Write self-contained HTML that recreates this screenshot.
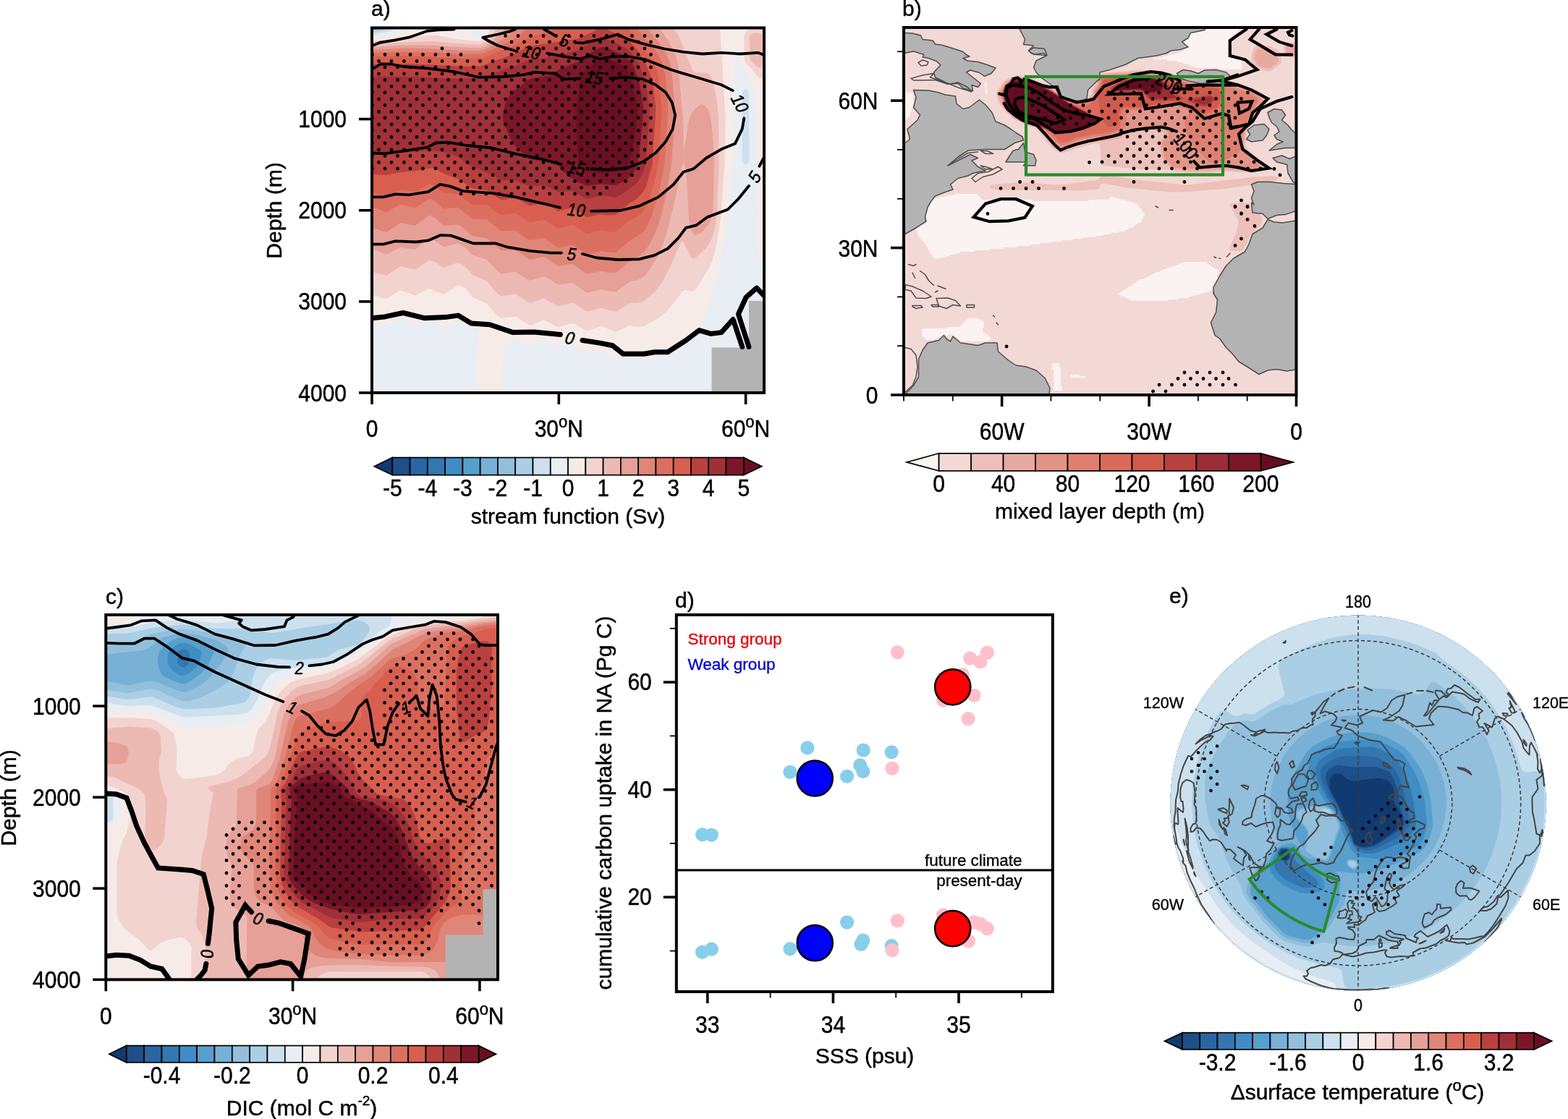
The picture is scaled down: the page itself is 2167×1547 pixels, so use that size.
<!DOCTYPE html>
<html lang="en"><head><meta charset="utf-8"><title>Figure</title>
<style>html,body{margin:0;padding:0;background:#fff;}svg{display:block;}text{font-family:"Liberation Sans", Arial, Helvetica, sans-serif;}</style>
</head><body>
<svg width="2167" height="1547" viewBox="0 0 2167 1547">
<rect width="2167" height="1547" fill="#fff"/>
<g id="pa">
<rect x="514" y="38.5" width="542" height="504.5" fill="#f2c9c3"/>
<clipPath id="pa_clip"><rect x="514" y="38.5" width="542" height="504.5"/></clipPath>
<g clip-path="url(#pa_clip)">
<rect x="514" y="38.5" width="542" height="504.5" fill="#78b0d6"/>
<path d="M514 40.5l0-1.5l3-0.5l539.5 0l0 504.5l-542.5 0z" fill="#92bfdc" fill-rule="evenodd"/>
<path d="M523 40.5l5.5-2l528 0l0 504.5l-542.5 0l0-501z" fill="#aacfe5" fill-rule="evenodd"/>
<path d="M535 40.5l4-2l517.5 0l0 504.5l-542.5 0l0-499l10-1z" fill="#cde0ee" fill-rule="evenodd"/>
<path d="M547.5 40.5l2.5-2l506.5 0l0 504.5l-542.5 0l0-495l20-3.5zM1029 123.5l-2.5 2.5l-0.5 4l-0.5 87.5l1 7l2.5 3l2.5 0l2.5-2.5l1.5-5.5l-0.5-87.5l-1-6l-2.5-2.5z" fill="#e8eef3" fill-rule="evenodd"/>
<path d="M567.5 40.5l3.5-2l82 0l-5.5 8l0.5 1.5l5.5 2l6.5 1l4.5-1l2.5-2l0.5-1.5l0-8l389 0l0 334.5l-2.5-1.5l-2.5-3l-2.5-7.5l-1.5-9l-2-185l-2.5-41l-7.5-23l-1.5-2.5l-8-7.5l-2.5-4l-2.5-7.5l-1.5-16l-2.5 0l-2.5 23.5l0.5 80l-4.5 95.5l-6 35l-3.5 31l-2.5 17.5l-11.5 51l-15 42.5l-7 14l-7.5 8.5l-12.5 9.5l-17.5 15l-5 2l-19.5 3.5l-12.5 3l-10-1.5l-10-3l-19.5 3.5l-20-14l-20 5.5l-19.5-12.5l-20 3.5l-19.5-10l-20 7l-20-7l-7 4.5l-4 4l-2.5 3.5l-2 6l-4 25.5l0 31l-33 0l0-52.5l2-35l-0.5-2l-1-1l-2.5-0.5l-5 0.5l-9.5-6l-10-3.5l-20 9l-19.5-10.5l-20 7l-15-8.5l-5-2l-19.5 11.5l-20-7l0-390l29.5-4.5z" fill="#f7ebe8" fill-rule="evenodd"/>
<path d="M677 38.5l318 0l7.5 122.5l-1 64.5l-5 70l-3.5 27.5l-5 25l-3.5 12l-5 11.5l-17 27l-5 4l-2.5 0.5l-7.5-2l-2.5 0.5l-2.5 2l-11 15l-11.5 13.5l-9.5 7.5l-15 8.5l-5 3l-5 0.5l-7.5 0l-7.5-1.5l-19.5 9l-20-8l-20 6.5l-19.5-11l-20 6l-19.5-10l-20 7.5l-20-13l-19.5 3l-8-6l-12-14.5l-20-8.5l-9.5-13l-5-2.5l-5-1l-20 12.5l-12.5-4.5l-7-3.5l-20 9.5l-20-7.5l-19.5 12.5l-20-6l0-350.5l84-8.5l5 0l28 5.5l24 2.5l7.5 0l5-1.5l5.5-5l2-3.5zM1034.5 40.5l2.5-2l19.5 0l0 69l-5 0.5l-2.5-0.5l-2.5-2l-6.5-8.5l-8.5-9l-2.5-4.5l-1-31.5l1.5-5.5l2-3.5z" fill="#f2d3cf" fill-rule="evenodd"/>
<path d="M686 38.5l244 0l6 8l3.5 5.5l10.5 28.5l7.5 16.5l2.5 2.5l2.5 1l14.5 0.5l2.5 1l2.5 2.5l2.5 5l2.5 8.5l4.5 27.5l1.5 19.5l0.5 47l0 17.5l-2.5 62l-2.5 19.5l-3.5 16l-3 6.5l-5 8l-12 12l-5 3.5l-2.5 0l-3.5-3l-9-18.5l-2.5-2l-2.5 2.5l-13 31.5l-12.5 23.5l-7.5 10l-16.5 15.5l-10 2.5l-10 0l-19.5 12l-12.5-3l-7.5-2.5l-20 5.5l-19.5-12.5l-20 5l-19.5-11l-20 6.5l-20-12.5l-19.5 3l-7.5-6l-12.5-15l-20-9l-9.5-10.5l-10-6l-20 7l-12.5-8l-7-2.5l-20 13.5l-20-5l-19.5 13l-20-5l0-314l42-3.5l42-1.5l45 4l19.5 0.5l7.5-2.5l7.5-6l3.5-5zM1040.5 46.5l3.5-1l5 0.5l7.5 2.5l0 42.5l-5 2l-2.5 0.5l-2.5-1l-8-7.5l-2.5-3.5l-0.5-29.5l2-4z" fill="#edbab3" fill-rule="evenodd"/>
<path d="M699.5 38.5l211.5 0l11 15.5l6.5 12l5 11.5l3.5 11.5l7 76l1 49.5l1-12.5l1.5-6l3.5-25l2-8l3.5-7.5l5-6l6-4.5l2-1l2.5 0.5l2.5 1.5l5 6.5l2.5 9.5l2.5 20l2.5 39.5l-1.5 68.5l-3.5 15.5l-2.5 5l-7.5 8.5l-4.5 3.5l-6 2.5l-1.5 0l-2.5-2.5l-2.5-6.5l-3-12.5l-2.5-49l-2-20.5l-2-8.5l-0.5-9l-1 11l-1.5 3.5l-9 43l-9.5 39l-6.5 21.5l-8.5 19.5l-10.5 17.5l-8 10.5l-10 5.5l-10 2l-19.5 14l-12.5-1.5l-7.5-2l-20 5l-19.5-14l-20 2.5l-19.5-11.5l-20 6l-20-12.5l-19.5 3l-7.5-6l-12.5-13.5l-20-6.5l-9.5-10l-10-6l-20 5l-12.5-8.5l-7-3l-20 15l-12.5-1.5l-7.5-2l-19.5 10.5l-20-8.5l0-278l42-3l37.5 0l49.5 3l19.5 0.5l7.5-2l7.5-5l18.5-16.5z" fill="#e6a098" fill-rule="evenodd"/>
<path d="M713.5 38.5l181 0l18.5 23.5l7 11.5l5.5 11.5l2 8l2.5 23.5l2.5 33l0 15.5l-4.5 62.5l-6.5 37l-5.5 25.5l-5 17.5l-6 15.5l-7 14l-7.5 11.5l-10 8l-10 4.5l-19.5 16l-12.5-0.5l-7.5-2l-20 4.5l-19.5-14l-20 3l-19.5-13l-20 4l-20-13.5l-19.5 1l-20-17l-20-3.5l-9.5-8.5l-10-7l-20 1.5l-12.5-11l-7-3.5l-20 14.5l-20-4l-19.5 13l-20-6l0-246l47-2.5l37 1l45 2.5l19.5 0l5-1l7.5-3l23.5-14l12-9.5z" fill="#e08679" fill-rule="evenodd"/>
<path d="M729 38.5l152 0l2 4l22.5 27l5 8l5.5 11.5l3.5 14l4 50.5l-5 74l-7.5 37l-5 17.5l-5.5 17l-5 11.5l-5 8.5l-7.5 6l-12.5 7.5l-19.5 16.5l-12.5-0.5l-7.5-1.5l-20 4.5l-19.5-13l-20 4l-19.5-13.5l-20 3.5l-20-14l-19.5 1l-20-16l-20-1l-19.5-15.5l-20 1.5l-12.5-11l-7-3l-20 13l-20-5l-19.5 11l-20-7.5l0-213l44.5-1.5l42 1l42.5 2.5l22-0.5l7.5-2.5l34.5-16l9-6z" fill="#dc7060" fill-rule="evenodd"/>
<path d="M767 40.5l3.5-2l96.5 0l25.5 31l7.5 12l5.5 9.5l3 8l1.5 5.5l5 47l-5 74l-5.5 25.5l-6.5 23l-7.5 16.5l-5 5l-7.5 5.5l-7.5 3l-19.5 17l-12.5-1l-7.5-1.5l-20 5l-19.5-13l-20 6l-19.5-13l-20 4l-20-13l-19.5 3l-20-14l-20-0.5l-19.5-15l-20-1.5l-10-8l-7.5-3l-2-0.5l-2.5 1l-17.5 9l-20-2.5l-19.5 9l-20-6l0-187l44.5-1.5l39.5 1.5l45 2.5l22-0.5l10-3l13-6l19-6.5l10-5l15-9l22.5-6z" fill="#d85f4f" fill-rule="evenodd"/>
<path d="M827 40.5l4-2l5 1l27 12.5l8 6l11.5 13.5l9.5 15.5l8 19.5l2.5 10l4 33l-5 78l-8.5 30l-3.5 7l-6.5 7.5l-5 4.5l-7.5 4l-19.5 16.5l-15 0.5l-5-1.5l-20 4.5l-19.5-13.5l-20 5l-19.5-12.5l-20 5l-20-11.5l-19.5 3.5l-20-13.5l-20-2.5l-19.5-13l-20-7.5l-10-6l-5-1.5l-7 0.5l-17.5 3.5l-20 1.5l-19.5 4l-20-1l0-152l44.5-1l39.5 1.5l45 2.5l22-1l42-15l25-12l64.5-10z" fill="#b9403f" fill-rule="evenodd"/>
<path d="M826 54l5-1.5l5 0.5l22.5 9.5l9.5 5.5l6.5 7.5l9 13.5l8.5 23.5l5.5 35l0 10l-4.5 63.5l-1 6.5l-2 7.5l-5.5 12l-6.5 8l-12.5 9.5l-14.5 9l-20-3.5l-20 5l-19.5-11l-20 1.5l-19.5-9.5l-20 2l-20-8.5l-19.5-0.5l-17.5-9.5l-7.5-2.5l-11-5.5l-11-4.5l-10-8.5l-5-2.5l-10-4l-15-3l-12-1l-40 3.5l-39.5 2.5l0-108.5l42 0l84.5 3.5l22-1.5l15-4l11-4.5l23-8l18-7.5l42-7l25-6.5z" fill="#a03038" fill-rule="evenodd"/>
<path d="M829 66l4.5-1l5 1l22.5 10l7 5l6.5 8l2.5 6l6.5 19.5l3.5 17.5l2.5 19.5l-1.5 19.5l-3 29l-4 25.5l-3 9.5l-5 7l-7.5 7l-14.5 7l-20-1.5l-20 2.5l-12-5l-14.5-9l-5.5-5l-7.5-9.5l-5-3.5l-10-2l-24.5-3l-5-3l-16.5-17l-6-9.5l-4.5-11l-4.5-12.5l-0.5-4l0.5-9.5l3.5-12l6-11.5l4-4l10.5-7l9-8.5l5-2l21-3.5l9.5-3.5l10.5-6.5l24.5-9.5l17-13z" fill="#7c1729" fill-rule="evenodd"/>
<path d="M830 79.5l3.5-1l2.5 0.5l12 6l14.5 6l3 2.5l5 11l4 12l7.5 35l-2 19.5l-4.5 27l-4 18l-3.5 11.5l-2.5 4l-4.5 3l-10 3l-17.5 2.5l-22.5-3l-8.5-3.5l-2-2l-2-15.5l-2-49l1-23.5l3-25l2.5-14l2.5-3.5z" fill="#690f24" fill-rule="evenodd"/>
<path d="M983.5 543V480.6H1035V416H1056V543Z" fill="#b3b3b3"/>
</g>
<g clip-path="url(#pa_clip)">
<path d="M698.5 49.5h0M716 49.5h0M733.5 49.5h0M751 49.5h0M768.5 49.5h0M786 49.5h0M803.5 49.5h0M821 49.5h0M838.5 49.5h0M856 49.5h0M873.5 49.5h0M891 49.5h0M908.5 49.5h0M707 58h0M724.5 58h0M742 58h0M759.5 58h0M777 58h0M794.5 58h0M812 58h0M829.5 58h0M847 58h0M864.5 58h0M882 58h0M899.5 58h0M698.5 67h0M716 67h0M733.5 67h0M751 67h0M768.5 67h0M786 67h0M803.5 67h0M821 67h0M838.5 67h0M856 67h0M873.5 67h0M891 67h0M514.5 75.5h0M532 75.5h0M549.5 75.5h0M567 75.5h0M584.5 75.5h0M602 75.5h0M619.5 75.5h0M637 75.5h0M707 75.5h0M724.5 75.5h0M742 75.5h0M759.5 75.5h0M777 75.5h0M794.5 75.5h0M812 75.5h0M829.5 75.5h0M847 75.5h0M864.5 75.5h0M882 75.5h0M899.5 75.5h0M523.5 84.5h0M541 84.5h0M558.5 84.5h0M576 84.5h0M593.5 84.5h0M611 84.5h0M628.5 84.5h0M646 84.5h0M663.5 84.5h0M681 84.5h0M698.5 84.5h0M716 84.5h0M733.5 84.5h0M751 84.5h0M768.5 84.5h0M786 84.5h0M803.5 84.5h0M821 84.5h0M838.5 84.5h0M856 84.5h0M873.5 84.5h0M891 84.5h0M514.5 93h0M532 93h0M549.5 93h0M567 93h0M584.5 93h0M602 93h0M619.5 93h0M637 93h0M654.5 93h0M672 93h0M689.5 93h0M707 93h0M724.5 93h0M742 93h0M759.5 93h0M777 93h0M794.5 93h0M812 93h0M829.5 93h0M847 93h0M864.5 93h0M882 93h0M899.5 93h0M523.5 102h0M541 102h0M558.5 102h0M576 102h0M593.5 102h0M611 102h0M628.5 102h0M646 102h0M663.5 102h0M681 102h0M698.5 102h0M716 102h0M733.5 102h0M751 102h0M768.5 102h0M786 102h0M803.5 102h0M821 102h0M838.5 102h0M856 102h0M873.5 102h0M891 102h0M514.5 110.5h0M532 110.5h0M549.5 110.5h0M567 110.5h0M584.5 110.5h0M602 110.5h0M619.5 110.5h0M637 110.5h0M654.5 110.5h0M672 110.5h0M689.5 110.5h0M707 110.5h0M724.5 110.5h0M742 110.5h0M759.5 110.5h0M777 110.5h0M794.5 110.5h0M812 110.5h0M829.5 110.5h0M847 110.5h0M864.5 110.5h0M882 110.5h0M899.5 110.5h0M523.5 119.5h0M541 119.5h0M558.5 119.5h0M576 119.5h0M593.5 119.5h0M611 119.5h0M628.5 119.5h0M646 119.5h0M663.5 119.5h0M681 119.5h0M698.5 119.5h0M716 119.5h0M733.5 119.5h0M751 119.5h0M768.5 119.5h0M786 119.5h0M803.5 119.5h0M821 119.5h0M838.5 119.5h0M856 119.5h0M873.5 119.5h0M891 119.5h0M514.5 128h0M532 128h0M549.5 128h0M567 128h0M584.5 128h0M602 128h0M619.5 128h0M637 128h0M654.5 128h0M672 128h0M689.5 128h0M707 128h0M724.5 128h0M742 128h0M759.5 128h0M777 128h0M794.5 128h0M812 128h0M829.5 128h0M847 128h0M864.5 128h0M882 128h0M899.5 128h0M523.5 137h0M541 137h0M558.5 137h0M576 137h0M593.5 137h0M611 137h0M628.5 137h0M646 137h0M663.5 137h0M681 137h0M698.5 137h0M716 137h0M733.5 137h0M751 137h0M768.5 137h0M786 137h0M803.5 137h0M821 137h0M838.5 137h0M856 137h0M873.5 137h0M891 137h0M514.5 145.5h0M532 145.5h0M549.5 145.5h0M567 145.5h0M584.5 145.5h0M602 145.5h0M619.5 145.5h0M637 145.5h0M654.5 145.5h0M672 145.5h0M689.5 145.5h0M707 145.5h0M724.5 145.5h0M742 145.5h0M759.5 145.5h0M777 145.5h0M794.5 145.5h0M812 145.5h0M829.5 145.5h0M847 145.5h0M864.5 145.5h0M882 145.5h0M899.5 145.5h0M523.5 154.5h0M541 154.5h0M558.5 154.5h0M576 154.5h0M593.5 154.5h0M611 154.5h0M628.5 154.5h0M646 154.5h0M663.5 154.5h0M681 154.5h0M698.5 154.5h0M716 154.5h0M733.5 154.5h0M751 154.5h0M768.5 154.5h0M786 154.5h0M803.5 154.5h0M821 154.5h0M838.5 154.5h0M856 154.5h0M873.5 154.5h0M891 154.5h0M514.5 163h0M532 163h0M549.5 163h0M567 163h0M584.5 163h0M602 163h0M619.5 163h0M637 163h0M654.5 163h0M672 163h0M689.5 163h0M707 163h0M724.5 163h0M742 163h0M759.5 163h0M777 163h0M794.5 163h0M812 163h0M829.5 163h0M847 163h0M864.5 163h0M882 163h0M899.5 163h0M523.5 172h0M541 172h0M558.5 172h0M576 172h0M593.5 172h0M611 172h0M628.5 172h0M646 172h0M663.5 172h0M681 172h0M698.5 172h0M716 172h0M733.5 172h0M751 172h0M768.5 172h0M786 172h0M803.5 172h0M821 172h0M838.5 172h0M856 172h0M873.5 172h0M891 172h0M514.5 180.5h0M532 180.5h0M549.5 180.5h0M567 180.5h0M584.5 180.5h0M602 180.5h0M619.5 180.5h0M637 180.5h0M654.5 180.5h0M672 180.5h0M689.5 180.5h0M707 180.5h0M724.5 180.5h0M742 180.5h0M759.5 180.5h0M777 180.5h0M794.5 180.5h0M812 180.5h0M829.5 180.5h0M847 180.5h0M864.5 180.5h0M882 180.5h0M899.5 180.5h0M523.5 189.5h0M541 189.5h0M558.5 189.5h0M576 189.5h0M593.5 189.5h0M611 189.5h0M628.5 189.5h0M646 189.5h0M663.5 189.5h0M681 189.5h0M698.5 189.5h0M716 189.5h0M733.5 189.5h0M751 189.5h0M768.5 189.5h0M786 189.5h0M803.5 189.5h0M821 189.5h0M838.5 189.5h0M856 189.5h0M873.5 189.5h0M891 189.5h0M514.5 198h0M532 198h0M549.5 198h0M567 198h0M584.5 198h0M602 198h0M619.5 198h0M637 198h0M654.5 198h0M672 198h0M689.5 198h0M707 198h0M724.5 198h0M742 198h0M759.5 198h0M777 198h0M794.5 198h0M812 198h0M829.5 198h0M847 198h0M864.5 198h0M882 198h0M899.5 198h0M523.5 207h0M541 207h0M558.5 207h0M576 207h0M593.5 207h0M611 207h0M628.5 207h0M646 207h0M663.5 207h0M681 207h0M698.5 207h0M716 207h0M733.5 207h0M751 207h0M768.5 207h0M786 207h0M803.5 207h0M821 207h0M838.5 207h0M856 207h0M873.5 207h0M891 207h0M514.5 215.5h0M532 215.5h0M549.5 215.5h0M567 215.5h0M584.5 215.5h0M602 215.5h0M619.5 215.5h0M637 215.5h0M654.5 215.5h0M672 215.5h0M689.5 215.5h0M707 215.5h0M724.5 215.5h0M742 215.5h0M759.5 215.5h0M777 215.5h0M794.5 215.5h0M812 215.5h0M829.5 215.5h0M847 215.5h0M864.5 215.5h0M882 215.5h0M899.5 215.5h0M523.5 224.5h0M541 224.5h0M558.5 224.5h0M576 224.5h0M593.5 224.5h0M611 224.5h0M628.5 224.5h0M646 224.5h0M663.5 224.5h0M681 224.5h0M698.5 224.5h0M716 224.5h0M733.5 224.5h0M751 224.5h0M768.5 224.5h0M786 224.5h0M803.5 224.5h0M821 224.5h0M838.5 224.5h0M856 224.5h0M873.5 224.5h0M891 224.5h0M514.5 233h0M532 233h0M549.5 233h0M567 233h0M584.5 233h0M602 233h0M619.5 233h0M637 233h0M654.5 233h0M672 233h0M689.5 233h0M707 233h0M724.5 233h0M742 233h0M759.5 233h0M777 233h0M794.5 233h0M812 233h0M829.5 233h0M847 233h0M864.5 233h0M882 233h0M628.5 242h0M646 242h0M663.5 242h0M681 242h0M698.5 242h0M716 242h0M733.5 242h0M751 242h0M768.5 242h0M786 242h0M803.5 242h0M821 242h0M838.5 242h0M856 242h0M873.5 242h0M637 250.5h0M654.5 250.5h0M672 250.5h0M689.5 250.5h0M707 250.5h0M724.5 250.5h0M742 250.5h0M759.5 250.5h0M777 250.5h0M794.5 250.5h0M812 250.5h0M829.5 250.5h0M847 250.5h0M864.5 250.5h0M646 259.5h0M663.5 259.5h0M681 259.5h0M698.5 259.5h0M716 259.5h0M733.5 259.5h0M751 259.5h0M768.5 259.5h0M786 259.5h0M803.5 259.5h0M821 259.5h0M838.5 259.5h0M637 268h0M654.5 268h0M672 268h0M689.5 268h0M707 268h0M724.5 268h0M742 268h0M759.5 268h0M777 268h0M794.5 268h0M812 268h0M829.5 268h0M611 67h0" fill="none" stroke="#000" stroke-width="4.8" stroke-linecap="round"/>
<path d="M514 63.5L524.3 59L546.5 55.4L565 51.7L576 48L590.8 42.8L605.5 41.4L627.7 40.5" fill="none" stroke="#000" stroke-width="3.8" stroke-linejoin="round" stroke-linecap="round"/>
<path d="M712 40.5L705.7 43.1L688 47.5L667.3 51.8L676 57L688 63L714.4 71" fill="none" stroke="#000" stroke-width="3.8" stroke-linejoin="round" stroke-linecap="round"/>
<path d="M756 73.6L784 78.9L801.4 81.5L815.4 77.1L829.3 81.5L846.8 78L867.7 78L892.2 82.4L909.6 89.3L927 96.3L944.5 101.6L962 106.8L979.5 112L996.9 117.3L1012.6 125.1" fill="none" stroke="#000" stroke-width="3.8" stroke-linejoin="round" stroke-linecap="round"/>
<path d="M1028.3 163.5L1025.7 178.4L1016 198.4L996.9 206.3L976 218.5L958.5 233.4L944.5 237.7L930.6 255.2L909.6 272.6L883.5 284.8L857.3 291L817 291.8" fill="none" stroke="#000" stroke-width="3.8" stroke-linejoin="round" stroke-linecap="round"/>
<path d="M752 40.5L760 45L768.5 50" fill="none" stroke="#000" stroke-width="3.8" stroke-linejoin="round" stroke-linecap="round"/>
<path d="M795.3 58.8L804.9 59.7L829.3 54.4L853.8 47.5L867.7 54.4L892.2 61.4L918.4 67.5L944.5 71.9L970.7 74.5L996.9 72.8L1023 74.5L1047.5 72.8L1056 76" fill="none" stroke="#000" stroke-width="3.8" stroke-linejoin="round" stroke-linecap="round"/>
<path d="M514 96L526 88.5L540 88.5L557.3 92L592.2 94.6L627 99L662 106.8L697 106L723 103.3L738.8 99.8L766.7 101.5L779 109.4L801.4 108.5" fill="none" stroke="#000" stroke-width="3.8" stroke-linejoin="round" stroke-linecap="round"/>
<path d="M843.3 108.5L866 106.8L888.7 109.4L906 117.3L920 127.7L928.8 141.7L933.2 159.2L929.7 178.4L920 195.8L906 211.5L888.7 223.7L866 232.5L839.8 234.6L817 233.4" fill="none" stroke="#000" stroke-width="3.8" stroke-linejoin="round" stroke-linecap="round"/>
<path d="M514 211.5L531 212.3L557.3 208.9L590.5 203.6L602.7 197.5L618.4 196.6L644.6 201L679.5 204.5L714.4 213.2L749.3 220.2L775.5 227.2" fill="none" stroke="#000" stroke-width="3.8" stroke-linejoin="round" stroke-linecap="round"/>
<path d="M514 272.4L529.8 272.4L546.4 268.3L565 269.3L591.9 265.2L608.4 254.8L623 257.9L639.5 264.1L680.8 267.2L711.9 272.4L742.9 279.6L774 286.9" fill="none" stroke="#000" stroke-width="3.8" stroke-linejoin="round" stroke-linecap="round"/>
<path d="M514 337.6L529.8 337.6L546.4 333.4L575.3 334.5L591.9 332.4L608.4 325.2L623 325.6L639.5 331.4L654 336.5L685 336.5L701.5 341.7L732.6 346.9L761.5 349.6L776 349.6" fill="none" stroke="#000" stroke-width="3.8" stroke-linejoin="round" stroke-linecap="round"/>
<path d="M805 351L825 356.5L854 359L883 358.3L904.6 352.9L922.7 343.8L937.2 329.4L948 314.9L962.5 311.3L977 300.4L1006 289.5L1020.4 275L1035 257" fill="none" stroke="#000" stroke-width="3.8" stroke-linejoin="round" stroke-linecap="round"/>
<path d="M1049.4 229.8L1056 217" fill="none" stroke="#000" stroke-width="3.8" stroke-linejoin="round" stroke-linecap="round"/>
<path d="M514.1 439.7L531.8 437.9L557.1 432.5L586.1 439.7L615 438.6L633.1 436.1L651.2 447L676.6 448.8L709.1 459.6L738.1 458.9L774.3 462.5" fill="none" stroke="#000" stroke-width="7" stroke-linejoin="round" stroke-linecap="round"/>
<path d="M805 470.5L828.6 474.1L846.7 477.7L861.1 489.3L890.1 489.3L904.6 486.8L922.7 486.8L948 470.5L966.1 456.7L982.4 461.4L996.9 459.6L1013.1 441.5L1025.8 479.5" fill="none" stroke="#000" stroke-width="7" stroke-linejoin="round" stroke-linecap="round"/>
<path d="M1034.9 479.5L1020.4 434.3L1031.2 410.8L1045.7 398.1L1056.2 409" fill="none" stroke="#000" stroke-width="7" stroke-linejoin="round" stroke-linecap="round"/>
</g>
<text font-size="22.5" stroke="#000" stroke-width="0.5" text-anchor="middle" transform="translate(735.0 72.0) rotate(12) scale(1 1.08) skewX(-10)" dy="0.36em">10</text>
<text font-size="22.5" stroke="#000" stroke-width="0.5" text-anchor="middle" transform="translate(781.0 56.0) rotate(20) scale(1 1.08) skewX(-10)" dy="0.36em">5</text>
<text font-size="22.5" stroke="#000" stroke-width="0.5" text-anchor="middle" transform="translate(822.0 107.0) rotate(8) scale(1 1.08) skewX(-10)" dy="0.36em">15</text>
<text font-size="22.5" stroke="#000" stroke-width="0.5" text-anchor="middle" transform="translate(797.0 232.0) rotate(10) scale(1 1.08) skewX(-10)" dy="0.36em">15</text>
<text font-size="22.5" stroke="#000" stroke-width="0.5" text-anchor="middle" transform="translate(797.0 290.0) rotate(6) scale(1 1.08) skewX(-10)" dy="0.36em">10</text>
<text font-size="22.5" stroke="#000" stroke-width="0.5" text-anchor="middle" transform="translate(790.5 351.0) rotate(6) scale(1 1.08) skewX(-10)" dy="0.36em">5</text>
<text font-size="22.5" stroke="#000" stroke-width="0.5" text-anchor="middle" transform="translate(1023.0 143.0) rotate(62) scale(1 1.08) skewX(-10)" dy="0.36em">10</text>
<text font-size="22.5" stroke="#000" stroke-width="0.5" text-anchor="middle" transform="translate(1043.0 244.0) rotate(-58) scale(1 1.08) skewX(-10)" dy="0.36em">5</text>
<text font-size="22.5" stroke="#000" stroke-width="0.5" text-anchor="middle" transform="translate(788.0 467.0) rotate(12) scale(1 1.08) skewX(-10)" dy="0.36em">0</text>
<rect x="514.0" y="38.5" width="542.0" height="504.5" fill="none" stroke="#000" stroke-width="4"/>
<line x1="496.0" y1="164.6" x2="514.0" y2="164.6" stroke="#000" stroke-width="3.6"/>
<text transform="translate(479.0 176.1) scale(1 1.08)" font-size="30" text-anchor="end" fill="#000" stroke="#000" stroke-width="0.45">1000</text>
<line x1="496.0" y1="290.8" x2="514.0" y2="290.8" stroke="#000" stroke-width="3.6"/>
<text transform="translate(479.0 302.2) scale(1 1.08)" font-size="30" text-anchor="end" fill="#000" stroke="#000" stroke-width="0.45">2000</text>
<line x1="496.0" y1="416.9" x2="514.0" y2="416.9" stroke="#000" stroke-width="3.6"/>
<text transform="translate(479.0 428.4) scale(1 1.08)" font-size="30" text-anchor="end" fill="#000" stroke="#000" stroke-width="0.45">3000</text>
<line x1="496.0" y1="543.0" x2="514.0" y2="543.0" stroke="#000" stroke-width="3.6"/>
<text transform="translate(479.0 554.5) scale(1 1.08)" font-size="30" text-anchor="end" fill="#000" stroke="#000" stroke-width="0.45">4000</text>
<line x1="514.0" y1="543.0" x2="514.0" y2="559.0" stroke="#000" stroke-width="3.6"/>
<text transform="translate(514.0 603.5) scale(1 1.08)" font-size="30" text-anchor="middle" fill="#000" stroke="#000" stroke-width="0.45">0</text>
<line x1="772.3" y1="543.0" x2="772.3" y2="559.0" stroke="#000" stroke-width="3.6"/>
<text transform="translate(772.3 603.5) scale(1 1.08)" font-size="30" text-anchor="middle" fill="#000" stroke="#000" stroke-width="0.45">30<tspan font-size="22" dy="-12">o</tspan><tspan dy="12">N</tspan></text>
<line x1="1030.6" y1="543.0" x2="1030.6" y2="559.0" stroke="#000" stroke-width="3.6"/>
<text transform="translate(1030.6 603.5) scale(1 1.08)" font-size="30" text-anchor="middle" fill="#000" stroke="#000" stroke-width="0.45">60<tspan font-size="22" dy="-12">o</tspan><tspan dy="12">N</tspan></text>
<text x="389.0" y="291.0" font-size="30" text-anchor="middle" fill="#000" stroke="#000" stroke-width="0.45" transform="rotate(-90 389.0 291.0)">Depth (m)</text>
<text x="513.0" y="22.0" font-size="30" text-anchor="start" fill="#000" stroke="#000" stroke-width="0.45">a)</text>
<path d="M542.3 632.6L517.3 644.7L542.3 656.7Z" fill="#113a70" stroke="#000" stroke-width="1.7" stroke-linejoin="miter"/>
<path d="M1027.8 632.6L1052.8 644.7L1027.8 656.7Z" fill="#690f24" stroke="#000" stroke-width="1.7" stroke-linejoin="miter"/>
<rect x="542.30" y="632.6" width="24.27" height="24.1" fill="#1f4f88" stroke="#000" stroke-width="1.7"/>
<rect x="566.57" y="632.6" width="24.27" height="24.1" fill="#2a66a2" stroke="#000" stroke-width="1.7"/>
<rect x="590.85" y="632.6" width="24.27" height="24.1" fill="#3477b0" stroke="#000" stroke-width="1.7"/>
<rect x="615.12" y="632.6" width="24.27" height="24.1" fill="#3f8dc4" stroke="#000" stroke-width="1.7"/>
<rect x="639.40" y="632.6" width="24.27" height="24.1" fill="#579fcd" stroke="#000" stroke-width="1.7"/>
<rect x="663.67" y="632.6" width="24.27" height="24.1" fill="#78b0d6" stroke="#000" stroke-width="1.7"/>
<rect x="687.95" y="632.6" width="24.27" height="24.1" fill="#92bfdc" stroke="#000" stroke-width="1.7"/>
<rect x="712.22" y="632.6" width="24.27" height="24.1" fill="#aacfe5" stroke="#000" stroke-width="1.7"/>
<rect x="736.50" y="632.6" width="24.27" height="24.1" fill="#cde0ee" stroke="#000" stroke-width="1.7"/>
<rect x="760.77" y="632.6" width="24.27" height="24.1" fill="#e8eef3" stroke="#000" stroke-width="1.7"/>
<rect x="785.05" y="632.6" width="24.27" height="24.1" fill="#f7ebe8" stroke="#000" stroke-width="1.7"/>
<rect x="809.32" y="632.6" width="24.27" height="24.1" fill="#f2d3cf" stroke="#000" stroke-width="1.7"/>
<rect x="833.60" y="632.6" width="24.27" height="24.1" fill="#edbab3" stroke="#000" stroke-width="1.7"/>
<rect x="857.88" y="632.6" width="24.27" height="24.1" fill="#e6a098" stroke="#000" stroke-width="1.7"/>
<rect x="882.15" y="632.6" width="24.27" height="24.1" fill="#e08679" stroke="#000" stroke-width="1.7"/>
<rect x="906.42" y="632.6" width="24.27" height="24.1" fill="#dc7060" stroke="#000" stroke-width="1.7"/>
<rect x="930.70" y="632.6" width="24.27" height="24.1" fill="#d85f4f" stroke="#000" stroke-width="1.7"/>
<rect x="954.97" y="632.6" width="24.27" height="24.1" fill="#b9403f" stroke="#000" stroke-width="1.7"/>
<rect x="979.25" y="632.6" width="24.27" height="24.1" fill="#a03038" stroke="#000" stroke-width="1.7"/>
<rect x="1003.52" y="632.6" width="24.27" height="24.1" fill="#7c1729" stroke="#000" stroke-width="1.7"/>
<text transform="translate(542.3 686.0) scale(1 1.08)" font-size="30" text-anchor="middle" fill="#000" stroke="#000" stroke-width="0.45">-5</text>
<text transform="translate(590.8 686.0) scale(1 1.08)" font-size="30" text-anchor="middle" fill="#000" stroke="#000" stroke-width="0.45">-4</text>
<text transform="translate(639.4 686.0) scale(1 1.08)" font-size="30" text-anchor="middle" fill="#000" stroke="#000" stroke-width="0.45">-3</text>
<text transform="translate(687.9 686.0) scale(1 1.08)" font-size="30" text-anchor="middle" fill="#000" stroke="#000" stroke-width="0.45">-2</text>
<text transform="translate(736.5 686.0) scale(1 1.08)" font-size="30" text-anchor="middle" fill="#000" stroke="#000" stroke-width="0.45">-1</text>
<text transform="translate(785.0 686.0) scale(1 1.08)" font-size="30" text-anchor="middle" fill="#000" stroke="#000" stroke-width="0.45">0</text>
<text transform="translate(833.6 686.0) scale(1 1.08)" font-size="30" text-anchor="middle" fill="#000" stroke="#000" stroke-width="0.45">1</text>
<text transform="translate(882.1 686.0) scale(1 1.08)" font-size="30" text-anchor="middle" fill="#000" stroke="#000" stroke-width="0.45">2</text>
<text transform="translate(930.7 686.0) scale(1 1.08)" font-size="30" text-anchor="middle" fill="#000" stroke="#000" stroke-width="0.45">3</text>
<text transform="translate(979.2 686.0) scale(1 1.08)" font-size="30" text-anchor="middle" fill="#000" stroke="#000" stroke-width="0.45">4</text>
<text transform="translate(1027.8 686.0) scale(1 1.08)" font-size="30" text-anchor="middle" fill="#000" stroke="#000" stroke-width="0.45">5</text>
<text x="785.0" y="723.5" font-size="30" text-anchor="middle" stroke="#000" stroke-width="0.45">stream function (Sv)</text>
</g>
<g id="pb">
<rect x="1249" y="38" width="542.5" height="508" fill="#f3d9d5"/>
<clipPath id="pb_clip"><rect x="1249" y="38" width="542.5" height="508"/></clipPath>
<g clip-path="url(#pb_clip)">
<rect x="1249" y="38" width="542.5" height="508" fill="#faf3f1"/>
<path d="M1240 30l558 0l0 528l-558 0zM1250 128l0 38l2 0l6-6l0-4l2-2l0-4l2-2l0-2l2-2l0-4l-2-2l0-10zM1320 268l-2 2l-8 0l-2 2l-8 0l-2 2l-8 0l-2 2l-4 0l-4 4l0 2l-16 16l0 2l-2 2l2 2l0 6l2 2l0 6l2 2l0 4l2 2l0 2l8 8l0 2l4 4l0 2l4 4l0 2l2 2l0 2l4 4l6 0l2-2l6 0l2-2l4 0l2-2l6 0l2-2l4 0l2-2l18 0l2-2l18 0l2-2l18 0l2-2l16 0l2-2l16 0l2-2l12 0l2-2l14 0l2-2l12 0l2-2l14 0l2-2l12 0l2-2l14 0l2-2l10 0l2-2l8 0l2-2l8 0l2-2l8 0l2-2l2 0l2-2l2 0l2-2l2 0l4-4l2 0l2-2l2 0l2-2l0-2l2-2l0-2l2-2l0-2l-4-4l0-2l-6-6l0-2l-2 0l-2-2l-4 0l-2-2l-6 0l-2-2l-6 0l-2-2l-4 0l-2-2l-6 0l0 2l-2 2l-26 0l-2 2l-76 0l-2-2l-68 0l-8-8zM1362 114l-2 2l0 2l2 2l0 8l2 2l0-16zM1646 36l-2 2l0 4l-2 2l0 4l-2 2l0 4l-2 2l0 4l-2 2l0 4l-2 2l0 2l-2 2l-2 0l-2 2l-6 0l-2 2l-6 0l-2 2l-4 0l-2 2l-10 0l-2 2l-10 0l28 0l2 2l12 0l2 2l6 0l2 2l4 0l2 2l2 0l2 2l4 0l2 2l32 0l2 2l30 0l0-14l-2-2l-2 0l-2-2l-4 0l-2-2l-2 0l-4-4l2-2l0-10l2-2l0-8l4-4l2 0l10-10zM1338 440l-12 12l-16 0l-2 2l-32 0l-2 2l0 8l6 6l10 0l2-2l4 0l2-2l6 0l2-2l4 0l2-2l2 0l2 2l2 0l6 6l2 0l2 2l36 0l2-2l2 0l2-2l-6-6l-2 0l-4-4l0-4l2-2l0-6l-4-4l-2 0l-2-2zM1454 502l0 8l2 2l0 28l12 0l0-4l-2-2l0-26l-2-2l0-4zM1480 518l0 4l20 0l0-2l-8 0l-2-2zM1636 362l-2 2l-4 0l-2 2l-2 0l-2 2l-4 0l-2 2l-4 0l-2 2l-4 0l-2 2l-2 0l-2 2l-4 0l-2 2l-2 0l-2 2l-2 0l-2 2l-2 0l-2 2l-2 0l-2 2l-4 0l-2 2l-2 0l-4 4l-2 0l-4 4l-2 0l-4 4l-2 0l-4 4l-2 0l-2 2l0 2l2 0l2 2l4 0l2 2l2 0l2 2l2 0l2 2l50 0l2-2l12 0l2-2l12 0l2-2l4 0l2-2l6 0l2-2l4 0l2-2l6 0l2-2l4 0l2-2l0-6l2-2l0-4l2-2l0-6l2-2l0-4l-2-2l-2 0l-2-2l-2 0l-4-4l-2 0l-4-4z" fill="#f3d9d5" fill-rule="evenodd"/>
<path d="M1776.5 60l11.5-1.5l4 0l2 1.5l1.5 4l0.5 6l-0.5 6l-1.5 3l-4 1.5l-6-1l-4-1l-3.5-2.5l-1.5-4l-1.5-8l0.5-2zM1735.5 64l4.5-1l12 0l14 6l3 3l1.5 4l0.5 8l-1 4l-8 6.5l-6 4l-6 0l-12-3l-4-4l-5-9.5l0.5-4l2.5-10l1-2zM1556.5 98l11.5-1l26 0l24 3.5l19 7.5l7 2l44 1.5l8 1l32 8.5l8 3.5l10 6l3 3.5l1 2l-0.5 4l-23.5 36l-2.5 6l-2 18l0.5 2.5l2 3.5l24 20l2.5 4l-0.5 3l-2 2l-4 1.5l-14 2.5l-36-2l-28 2l-16 0l-24-1.5l-6-2l-6-1l-38-0.5l-52-5l-1.5-1l-1-2l-1-24l-0.5-2l-2-1.5l-4-0.5l-22 6l-22 7.5l-6 0l-12-9l-20-24.5l-3-2l-9-2.5l-14-6l-4-2.5l-11-9l-10-12l-3-8l-1-6l0.5-4l10-14l8.5-5.5l6-2l4-0.5l16 2.5l22 9l10 4.5l12.5 10l8.5 4l13 3.5l10-0.5l6-2.5l4-4l0.5-6.5l5.5-7l2.5-11l3.5-4l6-1.5zM1522 242l4-1l48 8l64 6.5l10-0.5l84-10.5l30-1l3 0.5l1.5 2l-2.5 3l-4 1.5l-66 10.5l-60 4.5l-18 0l-60-6l-30-6l-4 0.5l-1.5 2l-1.5 4l-3 2l-28 1.5l-112-1l-6-1.5l-2.5-3l1.5-2l3-0.5l34-3l18 0l34 3l14-0.5l44-6l2.5-1zM1700 282l2-1l4-0.5l18 0l4 1l4 3.5l10 13l2 4l0 5.5l-2 5l-12 10l-2.5 3.5l-3.5 9l-4 7l-3 4l-3 1l-12 0l-2-1l-1-2l1-4l8.5-18l3-14l-1.5-6l-9.5-16l-1-2z" fill="#edc0b9" fill-rule="evenodd"/>
<path d="M1779.5 62l8.5-1l4 1.5l1 1.5l0 6l0 4l-1 2.5l-2 1l-6-0.5l-2.5-1l-2.5-2l-2.5-8l0.5-2zM1737.5 68l4.5-0.5l10 0l11 4.5l3 4l1 6l-1 4l-7.5 6l-4.5 2.5l-6.5-0.5l-7.5-2l-2-2l-4.5-8l0.5-6l2-6zM1557 100l15-1l22 1l24 3l24 9l52 2.5l34 9.5l15 8l3.5 4l0 4l-23 36l-2.5 8l-2 16l0.5 4l2.5 4l21.5 18l3 4l-1 2l-5.5 2.5l-12 2l-34-2l-28 2l-18 0l-20-1.5l-4-1l-7.5-4l-5-4l-5-6l-1.5-8l-2-14l1.5-4l5.5-6l0.5-4l-3.5-2l-17-3l-32 4l-4 1.5l-5 5.5l-3 1.5l-20 3.5l-12 0l-28 7.5l-16 6l-4 0.5l-5.5-3l-6.5-5.5l-17.5-22.5l-3-2l-15.5-4.5l-14-6.5l-4-2.5l-11.5-12.5l-6.5-10l-1.5-6l-0.5-4l1-4l7.5-12l3.5-2.5l6-3l6-2l4 0l14 2l20 8l14 8l10 7.5l8 4l14 4l10-1l6-2l6-5l1-8l5-6l2-10l3-4l5-1.5z" fill="#e8aaa0" fill-rule="evenodd"/>
<path d="M1551 102l25-1l30 2.5l12 1.5l26 9.5l50 2l32 9l12.5 6.5l4.5 4l0.5 2l-0.5 2l-22 36l-2 8l-2 18l0.5 4l2.5 4l19 16l1.5 2l0.5 2l-3 2l-10 1.5l-30-2l-38 2l-34-1.5l-4-2l-10-8l-3-6l-2.5-14l0-4l1.5-3l4.5-5l2.5-4l-1-4l-2-2l-4-1.5l-16-2.5l-8 0l-24 3l-6 2l-8 3.5l-20 6l-10 0l-10 1l-18 4l-18 7.5l-4 0l-6-4l-17.5-19l-3-2l-4-2l-17.5-5.5l-12-5.5l-6-3.5l-11.5-13.5l-5.5-16l0.5-6l2-4l4-6l4.5-4l8-3.5l16 0l4 1l22 9l12 7l18 12.5l12 3.5l12-0.5l6-2l7-5l1-2l0.5-6l5.5-8l1.5-8l2.5-4.5l6-1.5z" fill="#e39488" fill-rule="evenodd"/>
<path d="M1545 104l29-1.5l40 3l6 1.5l24 9l36 1.5l16 2l28 8.5l9 4l5 4l0.5 4l-20 36l-2 8l-2.5 22.5l-2 5.5l-14 7l-16 6l-6 0.5l-6-2.5l-21-21l-4.5-6l-1.5-4l-4.5-14l-1.5-8l1.5-6l6.5-10l-2.5-2l-2.5-0.5l-1.5-1.5l-8.5-2.5l-2-1.5l-2 0l-12 0l-2 1.5l-8 0.5l-4 1.5l-8 0.5l-2 1.5l-2 0l-31 0.5l-0.5 20l-2 4l-6.5 5l-22 7l-14 0.5l-22 4.5l-18.5 7l-5.5 0.5l-6-4.5l-15-16l-9-4.5l-16-4.5l-14-6.5l-6-4l-10.5-12.5l-5-16l0-6l4.5-8l5-5l8-4l16 0l6 1.5l20 9l10 5.5l15.5 11l10.5 6l8 1.5l10-0.5l8-2.5l7.5-6.5l0.5-8l5.5-8l2.5-10l4-2.5z" fill="#de7f71" fill-rule="evenodd"/>
<path d="M1570 104l10 0.5l36 3.5l28 9.5l38 2l4.5 2.5l5 6l0.5 4l-2 2l0 6l-2 2l0 4l-6 6l-2 0l-2 2l-2 0l-2 2l-4 0l-2 2l-6 0l-2 2l-1.5-2l-4.5-1l-6-4l-8-4.5l-10-4l-6-1l-6 0l-34 6l-30 1l-3.5 1.5l-1 2l-1 4l0 16l-2 4l-2.5 1.5l-18 5l-14 1l-24 5l-14 5.5l-6 1.5l-4-2l-11-11.5l-6-4l-13-5.5l-14-4l-18-9l-4-3.5l-8-10l-5-18l0.5-4l6-10l6.5-4.5l6-2.5l14 0.5l6 2l22 9.5l10 6l16 11l14 8l4 1l6-0.5l8-1.5l4-2.5l6-4.5l1.5-2l-0.5-6l1-4l5-6l2-10l2-2l11-1.5z" fill="#da6b5b" fill-rule="evenodd"/>
<path d="M1544.5 108l23.5-2l28 0.5l3 1.5l17 2l26 9.5l39 2.5l3 1.5l2.5 2.5l1.5 4l-0.5 2l-3 12l-2.5 4l-4 2l-16 5.5l-6-1l-14-7.5l-10-4l-8-2l-6 0l-34 6l-28 0.5l-4 0.5l-3 2l-2.5 4l-1 16l-1.5 3l-4 2l-8 0.5l-4-3l-6.5-10.5l-3.5-26l0-8l4.5-6l3.5-11.5l4-1zM1403 110l17 0.5l22 9l14 8l22 15l18 9.5l2 0.5l2 1.5l2 0.5l2 1.5l2 0.5l2 1.5l10 4.5l1.5 1.5l-0.5 4l-15 9.5l-4 0.5l-2 1.5l-5 0.5l-1 1l-6.5 1l-1.5 1l-9 1l-3 1.5l-8 0l-10-2l-18-9l-16-5l-14-6l-6-4l-9.5-11.5l-5-18l1.5-6l5-7.5l4-3.5z" fill="#d05a4c" fill-rule="evenodd"/>
<path d="M1572.5 108l7.5-1l14 0l12 4.5l9 4.5l4 6l1 2.5l5 5.5l11 6l-2 1.5l-2 0.5l-40 1.5l-2-0.5l-2-1.5l-6-7.5l-4-2.5l-8-1l-28 1.5l-4-0.5l-2.5-1.5l-0.5-2l0-2l2-2l11-7l8-3.5zM1399 112l5-1.5l14 0l4 1l18 7.5l14 7.5l24 16.5l40 20.5l1 2.5l-5 4.5l-10 6l-14 4.5l-22 4l-6-0.5l-8-2l-18.5-8.5l-17.5-5.5l-16-8l-9.5-10.5l-2.5-4l-3.5-14l-0.5-4l1.5-4l4.5-7zM1669 132l5-0.5l5 4.5l0 2l-1.5 2l-5.5 5l-4 2l-6 0l-12-4l-6-2l-2-2l-4-1l24-5z" fill="#b8403f" fill-rule="evenodd"/>
<path d="M1578 108l16 0l10 3.5l9.5 6.5l6 10l6 6l-1.5 1.5l-4 0.5l-28 0.5l-2-0.5l-2-1.5l-3-4.5l-3-2l-2-2l-4-1.5l-8-0.5l-6 1l-20 1l-4-2l0-2l4-3.5l12-6.5l10-3zM1399.5 112l4.5-1.5l14 0.5l22 8.5l14 7.5l24 16.5l38 19.5l1.5 1l1 2l-1.5 2l-7 4.5l-8 4l-14 4l-22 4l-10-2l-20-9l-18-5.5l-16-8l-10-11l-2-5l-3.5-14l0.5-4l5-8.5zM1670 134l4 0.5l2 1.5l-0.5 2l-3.5 4l-4 2.5l-4 0l-3.5-0.5l-10-4l1-2z" fill="#9c2c36" fill-rule="evenodd"/>
<path d="M1563 110l19-1.5l12 0l9.5 3.5l3.5 2l0.5 2l0 6l-5.5 5l-11.5 1l-2.5 1l-4-0.5l-5.5-4.5l-2.5-1l-18 1l-10 1l-4 0l-3-1l-1-2l2-2.5zM1401 112l5-1l14 0.5l20 8.5l14 7.5l16 11.5l10 6l36 18.5l1.5 2.5l-4.5 4l-11 6l-16 4.5l-20 3.5l-12-3l-18-8l-16-4.5l-14-6.5l-6-4.5l-8-9.5l-2-5l-3-13l0.5-4l5-8l1.5-2z" fill="#7c1729" fill-rule="evenodd"/>
<path d="M1566.5 110l23.5-1l6 1l10 4l1 2l-0.5 4l-2.5 4.5l-18 3.5l-2-0.5l-4-3.5l-4-1.5l-30 1.5l-2 0l-2.5-2l1-2l8.5-4zM1402 112l17 0l23 9.5l11.5 6.5l22.5 15l40 21l1 2l-5 4l-11 6l-15 4l-20 3.5l-12-2.5l-18-8.5l-15.5-4.5l-13.5-6l-6-4l-8.5-10l-2.5-7l-2.5-11l0.5-4l5-8l3-2.5z" fill="#640d22" fill-rule="evenodd"/>
<path d="M1251 45.5L1261 46L1272.5 49L1275 54.5L1289 56L1292.5 61L1303 62.5L1317 67L1331 71.5L1335 75.5L1340 78L1331 80.5L1337 84L1351.5 85.5L1365.5 90L1376 94L1370 101.5L1360.5 105.5L1353.5 100.5L1341 97L1335.5 100L1344.5 107L1355.5 115.5L1351.5 120.5L1343 117.5L1344.5 125.5L1331 122L1324 115.5L1310 116L1303 112L1292.5 107L1290.5 100L1300 90L1294 84.5L1283.5 80.5L1275 79L1277 75.5L1262.5 71L1247 74L1247 45.5ZM1262.5 124.5L1283.5 125L1297.5 128L1306.5 131L1320.5 133L1322 143.5L1331 150.5L1339.5 148.5L1353.5 138L1362 145L1371 155.5L1376 168L1388.5 173L1397 178.5L1404 183.5L1413 189L1414.5 194L1402.5 197.5L1388.5 206.5L1362 206.5L1338 208L1324 217L1310 229L1324 222L1341 213.5L1351.5 218.5L1343 222L1351.5 230.5L1362 236L1353.5 237.5L1344.5 239.5L1338 243L1324 246.5L1313.5 255L1317 262L1306.5 265.5L1292.5 271L1287 278L1282 286.5L1278.5 300L1280 306L1266 315L1251 323.5L1247 323.5L1247 197.5L1251 197.5L1257.5 192.5L1254 178.5L1268 166L1271.5 159L1262.5 148.5L1266 134.5ZM1400.5 208L1407.5 206.5L1414.5 197.5L1416.5 210L1428.5 213.5L1432 222L1430.5 229L1414.5 229L1418 224L1390 224L1395.5 215ZM1407.5 37L1416.5 54.5L1414.5 61.5L1428.5 63L1421.5 70L1428.5 75.5L1442.5 73.5L1446 77L1432 84L1428.5 93L1432 100L1440.5 108.5L1458 121L1465 133L1475.5 138L1491.5 140L1502 136.5L1503.5 124.5L1516 112L1520 109.5L1520 100L1534 96.5L1555 89.5L1572.5 80.5L1598.5 77L1612.5 73.5L1618 70L1631.5 68.5L1642 65L1633.5 58L1642 52.5L1645.5 45.5L1665 41.5L1665 37ZM1626.5 101.5L1635 96.5L1645.5 98L1656 101.5L1665 97L1680.5 96.5L1694.5 100L1700 105L1694.5 110.5L1677 114L1659.5 115.5L1642 112L1631.5 108.5ZM1724 180L1733 173L1747 171.5L1754 178.5L1750.5 187L1745 194L1729.5 196L1722.5 192.5L1727.5 185.5ZM1752 155.5L1761 150.5L1771.5 152L1776.5 159L1771.5 166L1780 173L1785.5 180L1794 187L1794 204.5L1776.5 204.5L1764.5 206.5L1754 208L1764.5 199.5L1773 196L1764.5 192.5L1761 187L1768 182L1764.5 175L1757.5 169.5L1754 162.5ZM1759 218.5L1771.5 215L1782 219.5L1794 215L1794 255L1787 251.5L1780 239.5L1778.5 227.5L1764.5 224ZM1729.5 255L1738 251.5L1755.5 251.5L1773 253.5L1794 255L1794 290.5L1776.5 296.5L1764.5 297.5L1752 302.5L1745 295.5L1731 294L1729.5 280L1733 283L1729.5 274.5L1733 264ZM1752 303.5L1745 315L1731 323.5L1726 337.5L1720.5 348L1705 357L1694.5 367.5L1686 381L1677 397L1677 405.5L1682.5 414.5L1680.5 432L1673.5 446L1679 463.5L1686 468.5L1694.5 480.5L1703.5 489.5L1712 500L1726 508.5L1740 517.5L1752 512L1764.5 510.5L1778.5 513L1794 510.5L1794 304.5L1773 308L1761 307ZM1269.5 496.5L1275 484L1282 474L1297.5 470.5L1304.5 463.5L1308 468.5L1313.5 472L1317 465L1327.5 474L1351.5 477.5L1362 474L1378 474L1379.5 486L1393.5 498L1404 505L1418 507L1432 512L1444 522.5L1451 536.5L1449.5 549L1247 549L1262.5 533L1269.5 521Z" fill="#b3b3b3" stroke="#4d4d4d" stroke-width="1.5" stroke-linejoin="round"/>
<path d="M1251 393.5L1261 396L1275 402L1287 410L1280 412.5L1266 412L1259 402L1251 400.5ZM1294 412.5L1310 412L1320.5 415.5L1327.5 423L1317 421.5L1308 426.5L1297.5 423ZM1261 422.5L1273 422.5L1275 425L1266 426.5L1261 424ZM1336 421.5L1346.5 421.5L1346.5 425L1336 425ZM1287 421.5L1296 421.5L1297.5 424L1289 424ZM1343 246.5L1351.5 239.5L1365.5 237.5L1379.5 230.5L1385 234L1372.5 241L1358.5 244.5L1348 251.5ZM1355 208L1365.5 209L1372.5 212.5L1362 212.5ZM1355 229L1362 230.5L1371 233.5L1362 234ZM1269 86.5L1275 83L1283 85.5L1281 90L1273 91ZM1259 108.5L1275 104L1290.5 101.5L1285.5 107L1304.5 113L1324 121L1343 127L1338 121L1324 114L1310 116.5L1292.5 110.5L1275 111L1262.5 111ZM1421.5 70L1428.5 66L1443.5 67.5L1447 76.5L1432 75.5L1425 73.5ZM1251 480.5L1259 482.5L1266 491L1268 507L1266 521L1261 533L1251 542M1255.5 365.5L1262.5 367.5L1266 365.5M1271.5 374.5L1278.5 379.5L1283.5 388L1290.5 394.5M1296 395L1307 399.5M1261 377L1264.5 384.5M1292.5 404L1296 402M1372.5 436L1374.5 438M1377 446L1379.5 449M1597 285L1600.5 287M1616 290.5L1621 290.5M1678 355L1680.5 356.5M1685 357L1686.5 357.5M1695.5 355L1700 350M1310 229L1324 219.5L1338 211.5L1351.5 210" fill="none" stroke="#4d4d4d" stroke-width="1.5" stroke-linejoin="round" stroke-linecap="round"/>
</g>
<g clip-path="url(#pb_clip)">
<path d="M1567 110.5h0M1584.5 110.5h0M1602 110.5h0M1619.5 110.5h0M1558 119h0M1575.5 119h0M1593 119h0M1610.5 119h0M1628 119h0M1645.5 119h0M1663 119h0M1427 128h0M1444.5 128h0M1532 128h0M1549.5 128h0M1567 128h0M1584.5 128h0M1602 128h0M1619.5 128h0M1637 128h0M1654.5 128h0M1672 128h0M1689.5 128h0M1707 128h0M1724.5 128h0M1435.5 136.5h0M1453 136.5h0M1540.5 136.5h0M1558 136.5h0M1575.5 136.5h0M1593 136.5h0M1610.5 136.5h0M1628 136.5h0M1645.5 136.5h0M1663 136.5h0M1680.5 136.5h0M1698 136.5h0M1715.5 136.5h0M1427 145.5h0M1444.5 145.5h0M1462 145.5h0M1479.5 145.5h0M1497 145.5h0M1532 145.5h0M1549.5 145.5h0M1567 145.5h0M1584.5 145.5h0M1602 145.5h0M1619.5 145.5h0M1637 145.5h0M1654.5 145.5h0M1672 145.5h0M1689.5 145.5h0M1707 145.5h0M1435.5 154h0M1453 154h0M1470.5 154h0M1488 154h0M1505.5 154h0M1523 154h0M1540.5 154h0M1558 154h0M1575.5 154h0M1593 154h0M1610.5 154h0M1628 154h0M1645.5 154h0M1663 154h0M1680.5 154h0M1698 154h0M1444.5 163h0M1462 163h0M1479.5 163h0M1497 163h0M1532 163h0M1549.5 163h0M1567 163h0M1584.5 163h0M1602 163h0M1619.5 163h0M1637 163h0M1654.5 163h0M1672 163h0M1689.5 163h0M1707 163h0M1453 171.5h0M1470.5 171.5h0M1488 171.5h0M1505.5 171.5h0M1540.5 171.5h0M1558 171.5h0M1575.5 171.5h0M1593 171.5h0M1610.5 171.5h0M1628 171.5h0M1645.5 171.5h0M1663 171.5h0M1680.5 171.5h0M1698 171.5h0M1549.5 180.5h0M1567 180.5h0M1584.5 180.5h0M1602 180.5h0M1619.5 180.5h0M1637 180.5h0M1654.5 180.5h0M1672 180.5h0M1689.5 180.5h0M1558 189h0M1575.5 189h0M1593 189h0M1610.5 189h0M1628 189h0M1645.5 189h0M1663 189h0M1680.5 189h0M1698 189h0M1567 198h0M1584.5 198h0M1602 198h0M1619.5 198h0M1637 198h0M1654.5 198h0M1672 198h0M1689.5 198h0M1707 198h0M1558 206.5h0M1575.5 206.5h0M1593 206.5h0M1610.5 206.5h0M1628 206.5h0M1645.5 206.5h0M1663 206.5h0M1680.5 206.5h0M1698 206.5h0M1532 215.5h0M1549.5 215.5h0M1567 215.5h0M1584.5 215.5h0M1602 215.5h0M1619.5 215.5h0M1637 215.5h0M1654.5 215.5h0M1672 215.5h0M1689.5 215.5h0M1707 215.5h0M1523 224h0M1540.5 224h0M1558 224h0M1575.5 224h0M1593 224h0M1610.5 224h0M1628 224h0M1645.5 224h0M1663 224h0M1680.5 224h0M1698 224h0M1715.5 224h0M1733 224h0M1567 233h0M1584.5 233h0M1602 233h0M1619.5 233h0M1637 233h0M1654.5 233h0M1724.5 233h0M1742 233h0M1409.5 251.5h0M1427 251.5h0M1383 260.5h0M1400.5 260.5h0M1418 260.5h0M1435.5 260.5h0M1470.5 260.5h0M1505.5 224.5h0M1365 295.5h0M1707 286h0M1724 286h0M1715.5 295h0M1724 303.5h0M1734 312.5h0M1715.5 330h0M1707 339.5h0M1637 515h0M1654.5 515h0M1672 515h0M1690 515h0M1628 523.5h0M1645.5 523.5h0M1663 523.5h0M1680.5 523.5h0M1698 523.5h0M1602 532h0M1619.5 532h0M1637 532h0M1654.5 532h0M1672 532h0M1690 532h0M1707.5 532h0M1593.5 541h0M1611 541h0M1761 233.5h0M1769 242h0M1567 251.5h0M1637 251.5h0M1715.5 277h0M1707 285.5h0M1724 285.5h0M1715.5 295.5h0M1391 479h0" fill="none" stroke="#000" stroke-width="4.8" stroke-linecap="round"/>
<path d="M1415.4 109.3L1422.1 111L1441.4 118.6L1449.8 120.3L1460.8 120.3L1465.8 133.7L1475 137.1L1487.6 141.3L1500.3 139.6L1511.2 137.1L1525.5 119.4L1538.1 114.4L1550 109.3L1550.2 108.9L1566.1 103.4L1590.5 99.2L1605.6 100.9L1616.6 103.9L1630.8 111.8" fill="none" stroke="#000" stroke-width="4.2" stroke-linejoin="miter" stroke-linecap="round"/>
<path d="M1387.6 142.9L1392.7 151.3L1403.6 159.7L1412 165.6L1422.1 169.8L1433 173.2L1445.6 186.6L1458.2 200.9L1465.8 207.6L1475 203.4L1487.6 199.2L1504.5 195L1521.3 191.7L1538.1 188.3L1550 185L1546.8 185L1566.1 179.9L1584.6 177.4L1605.6 175.7L1616.6 178.2L1625.8 181.6" fill="none" stroke="#000" stroke-width="4.2" stroke-linejoin="miter" stroke-linecap="round"/>
<path d="M1422.1 121.1L1437.2 129.5L1454 142.1L1470.8 152.2L1487.6 157.2L1504.5 159.7L1521.3 164.8L1512.9 170.7L1496.1 177.4L1479.2 181.6L1458.2 183.3L1445.6 174L1428.8 163.9L1416.2 162.3L1403.6 155.5L1395.2 144.6L1390.2 132L1391.8 121.9L1399.4 117.7L1407.8 118.6L1422.1 121.1" fill="none" stroke="#000" stroke-width="4.2" stroke-linejoin="miter" stroke-linecap="round"/>
<path d="M1422.1 137.1L1437.2 143.8L1454 153.9L1465 161.4L1470.8 165.6L1458.2 170.7L1443.9 165.6L1422.1 160.6L1407.8 153.9L1401.9 143.8L1403.6 137.1L1412 134.5L1422.1 137.1" fill="none" stroke="#000" stroke-width="4.2" stroke-linejoin="miter" stroke-linecap="round"/>
<path d="M1380.9 129.5L1389.3 132L1391 119.4L1397.7 115.2L1400.3 109.3L1406.1 107.6L1412 111.8L1409.5 116.9L1403.6 117.7" fill="none" stroke="#000" stroke-width="4.2" stroke-linejoin="miter" stroke-linecap="round"/>
<path d="M1588.8 107.6L1566.1 111L1546.8 119.4L1532.5 130.3L1577.1 129.5L1582.9 150.5L1601.4 148L1630.8 142.9L1647.6 148.8L1664.5 163.9L1688 157.2L1698.1 159.7L1700.6 176.6L1710 174.9" fill="none" stroke="#000" stroke-width="4.2" stroke-linejoin="miter" stroke-linecap="round"/>
<path d="M1640.1 118.6L1656.1 117.7L1689.7 117.7L1710 117.7" fill="none" stroke="#000" stroke-width="4.2" stroke-linejoin="miter" stroke-linecap="round"/>
<path d="M1622.4 122.8L1647.6 123.2" fill="none" stroke="#000" stroke-width="4.2" stroke-linejoin="miter" stroke-linecap="round"/>
<path d="M1668.7 112.7L1689.7 111L1710 103.4" fill="none" stroke="#000" stroke-width="4.2" stroke-linejoin="miter" stroke-linecap="round"/>
<path d="M1687.6 112L1710.3 117.3L1729.5 124.3L1752.2 136.5L1740 148.7L1731.2 155.7L1726 171.4L1701.5 177.5L1698.1 160L1692.8 158.3" fill="none" stroke="#000" stroke-width="4.2" stroke-linejoin="miter" stroke-linecap="round"/>
<path d="M1785.3 133.9L1764.4 140L1741.7 150.4L1731.2 167.9L1720.7 176.6L1712 185.4L1717.3 206.3L1738.2 222L1753.9 232.5L1729.5 236L1712 231.6L1694.6 229L1677.1 229.9L1657.9 231.6L1650 222.9" fill="none" stroke="#000" stroke-width="4.2" stroke-linejoin="miter" stroke-linecap="round"/>
<path d="M1710.3 141.7L1730.3 140.3L1726 150.4L1712.9 156.6L1710.3 141.7" fill="none" stroke="#000" stroke-width="4.2" stroke-linejoin="miter" stroke-linecap="round"/>
<path d="M1722.5 40.5L1712 47.5L1699.8 56.2L1699.8 77.1L1720.7 82.4L1737.3 96.3L1712 105.1L1687.6 112" fill="none" stroke="#000" stroke-width="4.2" stroke-linejoin="miter" stroke-linecap="round"/>
<path d="M1740 40.5L1727.7 54.4L1745.2 64.9L1762.6 75.4L1785.3 75.7" fill="none" stroke="#000" stroke-width="4.2" stroke-linejoin="miter" stroke-linecap="round"/>
<path d="M1764.4 40.5L1750.4 47.5L1767.9 57.9L1785.3 63.2" fill="none" stroke="#000" stroke-width="4.2" stroke-linejoin="miter" stroke-linecap="round"/>
<path d="M1785.3 42.2L1780.1 44.8L1781.8 48.3L1786.2 49.6" fill="none" stroke="#000" stroke-width="4.2" stroke-linejoin="miter" stroke-linecap="round"/>
<path d="M1362.2 281.4L1383.1 275.2L1404.1 275.2L1426.8 285L1416.3 300.9L1393.6 305.3L1367.4 306.2L1345.6 300.1L1362.2 281.4" fill="none" stroke="#000" stroke-width="4.2" stroke-linejoin="miter" stroke-linecap="round"/>
<rect x="1418" y="106" width="272" height="135.6" fill="none" stroke="#2b8a2b" stroke-width="4.2"/>
</g>
<text font-size="23" stroke="#000" stroke-width="0.5" text-anchor="middle" transform="translate(1639.2 201.8) rotate(52) scale(1 1.08)" dy="0.36em">100</text>
<text font-size="23" stroke="#000" stroke-width="0.5" text-anchor="middle" transform="translate(1615.7 115.2) rotate(28) scale(1 1.08)" dy="0.36em">200</text>
<rect x="1249.0" y="38.0" width="542.5" height="508.0" fill="none" stroke="#000" stroke-width="4"/>
<line x1="1249.0" y1="546.0" x2="1249.0" y2="554.5" stroke="#000" stroke-width="1.8"/>
<line x1="1316.8" y1="546.0" x2="1316.8" y2="554.5" stroke="#000" stroke-width="1.8"/>
<line x1="1384.6" y1="546.0" x2="1384.6" y2="562.0" stroke="#000" stroke-width="3.6"/>
<line x1="1452.4" y1="546.0" x2="1452.4" y2="554.5" stroke="#000" stroke-width="1.8"/>
<line x1="1520.2" y1="546.0" x2="1520.2" y2="554.5" stroke="#000" stroke-width="1.8"/>
<line x1="1588.1" y1="546.0" x2="1588.1" y2="562.0" stroke="#000" stroke-width="3.6"/>
<line x1="1655.9" y1="546.0" x2="1655.9" y2="554.5" stroke="#000" stroke-width="1.8"/>
<line x1="1723.7" y1="546.0" x2="1723.7" y2="554.5" stroke="#000" stroke-width="1.8"/>
<line x1="1791.5" y1="546.0" x2="1791.5" y2="562.0" stroke="#000" stroke-width="3.6"/>
<line x1="1231.0" y1="546.0" x2="1249.0" y2="546.0" stroke="#000" stroke-width="3.6"/>
<line x1="1240.0" y1="478.2" x2="1249.0" y2="478.2" stroke="#000" stroke-width="1.8"/>
<line x1="1240.0" y1="410.4" x2="1249.0" y2="410.4" stroke="#000" stroke-width="1.8"/>
<line x1="1231.0" y1="342.6" x2="1249.0" y2="342.6" stroke="#000" stroke-width="3.6"/>
<line x1="1240.0" y1="274.8" x2="1249.0" y2="274.8" stroke="#000" stroke-width="1.8"/>
<line x1="1240.0" y1="206.9" x2="1249.0" y2="206.9" stroke="#000" stroke-width="1.8"/>
<line x1="1231.0" y1="139.1" x2="1249.0" y2="139.1" stroke="#000" stroke-width="3.6"/>
<line x1="1240.0" y1="71.3" x2="1249.0" y2="71.3" stroke="#000" stroke-width="1.8"/>
<text transform="translate(1213.5 151.1) scale(1 1.08)" font-size="30" text-anchor="end" fill="#000" stroke="#000" stroke-width="0.45">60N</text>
<text transform="translate(1213.5 354.6) scale(1 1.08)" font-size="30" text-anchor="end" fill="#000" stroke="#000" stroke-width="0.45">30N</text>
<text transform="translate(1213.5 558.0) scale(1 1.08)" font-size="30" text-anchor="end" fill="#000" stroke="#000" stroke-width="0.45">0</text>
<text transform="translate(1384.6 607.5) scale(1 1.08)" font-size="30" text-anchor="middle" fill="#000" stroke="#000" stroke-width="0.45">60W</text>
<text transform="translate(1588.1 607.5) scale(1 1.08)" font-size="30" text-anchor="middle" fill="#000" stroke="#000" stroke-width="0.45">30W</text>
<text transform="translate(1791.5 607.5) scale(1 1.08)" font-size="30" text-anchor="middle" fill="#000" stroke="#000" stroke-width="0.45">0</text>
<text x="1247.0" y="22.0" font-size="30" text-anchor="start" fill="#000" stroke="#000" stroke-width="0.45">b)</text>
<path d="M1297.6 626.8L1253.1 638.9L1297.6 651.0Z" fill="#faf3f1" stroke="#000" stroke-width="1.7" stroke-linejoin="miter"/>
<path d="M1742.4 626.8L1786.9 638.9L1742.4 651.0Z" fill="#640d22" stroke="#000" stroke-width="1.7" stroke-linejoin="miter"/>
<rect x="1297.60" y="626.8" width="44.48" height="24.2" fill="#f3d9d5" stroke="#000" stroke-width="1.7"/>
<rect x="1342.08" y="626.8" width="44.48" height="24.2" fill="#edc0b9" stroke="#000" stroke-width="1.7"/>
<rect x="1386.56" y="626.8" width="44.48" height="24.2" fill="#e8aaa0" stroke="#000" stroke-width="1.7"/>
<rect x="1431.04" y="626.8" width="44.48" height="24.2" fill="#e39488" stroke="#000" stroke-width="1.7"/>
<rect x="1475.52" y="626.8" width="44.48" height="24.2" fill="#de7f71" stroke="#000" stroke-width="1.7"/>
<rect x="1520.00" y="626.8" width="44.48" height="24.2" fill="#da6b5b" stroke="#000" stroke-width="1.7"/>
<rect x="1564.48" y="626.8" width="44.48" height="24.2" fill="#d05a4c" stroke="#000" stroke-width="1.7"/>
<rect x="1608.96" y="626.8" width="44.48" height="24.2" fill="#b8403f" stroke="#000" stroke-width="1.7"/>
<rect x="1653.44" y="626.8" width="44.48" height="24.2" fill="#9c2c36" stroke="#000" stroke-width="1.7"/>
<rect x="1697.92" y="626.8" width="44.48" height="24.2" fill="#7c1729" stroke="#000" stroke-width="1.7"/>
<text transform="translate(1297.6 679.5) scale(1 1.08)" font-size="30" text-anchor="middle" fill="#000" stroke="#000" stroke-width="0.45">0</text>
<text transform="translate(1386.6 679.5) scale(1 1.08)" font-size="30" text-anchor="middle" fill="#000" stroke="#000" stroke-width="0.45">40</text>
<text transform="translate(1475.5 679.5) scale(1 1.08)" font-size="30" text-anchor="middle" fill="#000" stroke="#000" stroke-width="0.45">80</text>
<text transform="translate(1564.5 679.5) scale(1 1.08)" font-size="30" text-anchor="middle" fill="#000" stroke="#000" stroke-width="0.45">120</text>
<text transform="translate(1653.4 679.5) scale(1 1.08)" font-size="30" text-anchor="middle" fill="#000" stroke="#000" stroke-width="0.45">160</text>
<text transform="translate(1742.4 679.5) scale(1 1.08)" font-size="30" text-anchor="middle" fill="#000" stroke="#000" stroke-width="0.45">200</text>
<text x="1520.0" y="717.0" font-size="30" text-anchor="middle" stroke="#000" stroke-width="0.45">mixed layer depth (m)</text>
</g>
<g id="pc">
<rect x="146.3" y="850" width="541.7" height="504.29999999999995" fill="#eab5ac"/>
<clipPath id="pc_clip"><rect x="146.3" y="850" width="541.7" height="504.29999999999995"/></clipPath>
<g clip-path="url(#pc_clip)">
<rect x="146.3" y="850" width="541.7" height="504.29999999999995" fill="#3477b0"/>
<path d="M146.5 850l542 0l0 504.5l-542 0zM250.5 898l-3.5 2.5l-1 2l-1 13.5l3 4.5l5 2.5l5-2l2.5-3l1-3.5l1-10l-1.5-4l-3-2l-2.5-1z" fill="#3f8dc4" fill-rule="evenodd"/>
<path d="M146.5 850l542 0l0 504.5l-542 0zM250.5 889l-10 5l-6.5 6.5l-2 6l-0.5 9.5l2.5 6l5.5 6l8.5 5.5l5 1l2.5-0.5l4.5-2.5l7-5.5l6-6l2-4l4-13.5l-2.5-4l-11.5-6.5l-9.5-3.5z" fill="#579fcd" fill-rule="evenodd"/>
<path d="M146.5 850l542 0l0 504.5l-542 0zM253 881l-7.5 1.5l-7 2.5l-12 8l-6 7.5l-2 8l-0.5 6l1.5 9.5l2.5 6l2.5 3.5l2.5 2l8 4l13 5l5 1l5-1l7-4l7-5l7-5.5l8-10l8.5-17.5l0-2l-3-4l-12.5-8l-14.5-5.5z" fill="#78b0d6" fill-rule="evenodd"/>
<path d="M146.5 850l542 0l0 504.5l-542 0l0-413l29.5 6l27.5-5.5l7-0.5l7.5 2l32.5 13l2.5 0.5l5-0.5l17-8l12.5-9l17.5-21.5l8.5-13.5l1.5-4l-0.5-4l-3-3.5l-5-4l-7.5-4l-21-6l-25-3.5l-14 2l-13.5 3.5l-7.5 4l-12.5 11l-4.5 2l-10 2l-44.5 4.5z" fill="#92bfdc" fill-rule="evenodd"/>
<path d="M146.5 850l542 0l0 504.5l-542 0l0-401l29.5 4.5l8.5-1l21-4.5l5 0l9 2.5l28.5 13l5 1.5l7 0l12.5-3.5l12.5-5l21-11.5l10-8l6.5-9.5l3-8l4-13.5l10-17.5l-0.5-2l-1.5-2l-5-4l-10.5-4.5l-49.5-8.5l-19.5-2.5l-22.5 2.5l-19 3.5l-9.5 3.5l-19 10l-7 2l-29.5 1z" fill="#aacfe5" fill-rule="evenodd"/>
<path d="M146.5 850l542 0l0 504.5l-542 0l0-392l29.5 4.5l10-1l19.5-2.5l5 0l31 13l9 3l5 1l42-2l37-6.5l5-2.5l5-6l1.5-4.5l2.5-19.5l3.5-11l4.5-8.5l7-5.5l10.5-4.5l35 3l43-4.5l16.5-10.5l27-7l2.5-2l11-13.5l1.5-4l0.5-4l-0.5-2l-4.5-4l-5.5-3l-5-1.5l-16 2.5l-28.5 3.5l-74.5 12l-34.5-5.5l-44.5-0.5l-44.5-5.5l-40 4l-39.5 8.5l-27 0z" fill="#cde0ee" fill-rule="evenodd"/>
<path d="M146.5 850l183.5 0l-0.5 4l-1 2l-4.5 2l-19 3l-10 0.5l-14.5-2l-14.5-1.5l-13-3l-18.5 3l-24 2.5l-34.5 8l-29.5 1zM542 850l146.5 0l0 504.5l-542 0l0-217l5-1.5l3-1.5l1.5-2l1-8l-1-21.5l-1-2l-2.5-2l-6-1.5l0-126l29.5 4.5l29.5-1l5 0.5l40 15l5 1l44.5-2l32-2l7.5-1.5l5-2.5l4.5-5l7.5-13.5l5.5-14l3.5-7.5l6-8l5-4.5l6-3l9-2.5l62-10l13-5l14-9l20-6.5l5.5-4l6.5-8l5.5-4.5l9.5-7.5l10-5.5l1.5-2z" fill="#e8eef3" fill-rule="evenodd"/>
<path d="M146.5 850l46.5 0l0 2l-1 4l-3 2l-10.5 3l-7.5 1l-24.5 0.5zM646.5 850l42 0l0 504.5l-530 0l-1-6l-3.5-11.5l-3-4l-4.5-2l0-187.5l9.5-3l8.5-4.5l2.5-3.5l0.5-10l-1-17.5l-0.5-4l-5-3.5l-7.5-3l-7-2l0-110.5l64 3.5l19 6.5l11 6l10 7l2.5 1l5 1l39.5-1.5l42-7l9-4.5l8.5-7l5-7l9.5-20.5l5.5-8.5l7-8l10-6.5l15-5.5l44.5-8l15-6.5l9.5-4l30-17l14-12.5l10.5-7l32.5-14.5l10-3l14.5-2l25-2l24.5-0.5l6-2z" fill="#f7ebe8" fill-rule="evenodd"/>
<path d="M670.5 850l18 0l0 504.5l-424.5 0l0.5-45l-3-6l-6-5.5l-2.5-1.5l-5-0.5l-17.5 4l-9 3.5l-8.5 8l-2.5 2l-2.5 0.5l-4.5-3l-10.5-11l-16-12l-6-5.5l-6.5-10l-3-9.5l0-68.5l2-12l3.5-13l2.5-8l5-9.5l4-13.5l2-10l0-6l-2.5-19.5l-1.5-4l-5-3.5l-13-6.5l-7-3l-5-1.5l0-92l27-0.5l12.5 0.5l22 1.5l7.5 2.5l15 9.5l7 5.5l3.5 4l3.5 17.5l-1 31l2.5 6l4.5 5l2.5 1.5l5 0.5l39.5-5l5.5-2l6-4l5.5-8l6-5.5l6.5-3l15-4l6.5-4.5l1.5-4l3-15.5l4-14l8.5-7.5l3.5-5l8-20.5l7-13.5l10-11.5l7.5-6l10-4l42-9l19.5-8.5l22.5-11l39.5-30l32.5-14.5l14.5-4l17.5-2.5l17.5-1.5l19.5-0.5l15.5-2l11-2l6-2z" fill="#f2d3cf" fill-rule="evenodd"/>
<path d="M683.5 854l5-1.5l0 502l-92.5 0l-1.5-4l-2.5-2.5l-5-3.5l-5-1.5l-81.5 0l-47 0.5l-5 1.5l-6.5 3.5l-2 2l-2 4l-155.5 0l1.5-47l-3.5-11.5l-3-6l-5.5-7.5l-1-6l4-52.5l4-43l6.5-21.5l4-35l3.5-19.5l2-7.5l-0.5-2l-6-4l-1.5-2l2-2l3.5-1l22-5.5l13.5-5l9-6l29.5-23.5l4-5.5l3.5-11l8.5-40l3.5-11.5l4.5-8l5.5-7.5l7.5-8l5.5-4l7.5-3l37-8l37-18l12.5-8l32.5-27l7-4l31-13.5l11-3l25-4l10-1l19.5-1zM161 1006l17.5-1.5l29.5 2l5 2l5 3l2 2l2 4l1 21.5l-3 11.5l-0.5 15.5l7 29.5l4 7.5l0.5 4l-4 52.5l-1.5 4l-4 6l-3.5 3l-5 2.5l-2.5 0l-2.5-1l-2.5-2.5l-3.5-6l-2-6l1.5-37l-1-21.5l-1.5-3.5l-5.5-5.5l-8-4.5l-24.5-11.5l-7.5-2.5l-7-1.5l0-64.5z" fill="#edbab3" fill-rule="evenodd"/>
<path d="M682 858l6.5-1l0 497.5l-80.5 0l-1.5-6l-4.5-6l-7-4l-10.5-2l-44.5-0.5l-44.5-2l-27 0l-22.5 1l-10 1.5l-7 2l-4 2l-4 4l-2 4.5l-1 5.5l-77.5 0l1-86l-0.5-2l-2-2l-14.5-8.5l-4.5-5l-2-4l-0.5-3.5l2.5-47l-7-17.5l-0.5-4l0.5-13.5l3-8l9.5-11.5l1-2l1.5-48.5l2.5-2l14-4l8-4l16.5-14.5l5-6l5.5-12.5l11-54.5l4-11.5l4.5-8l7.5-8.5l5-3.5l7.5-3l34.5-8.5l19.5-11.5l22.5-11.5l7.5-5l11-8.5l25-23.5l43-19.5l7.5-2l25-3.5l22-1.5l22.5-4zM146.5 1025l9.5 1l10 2l7.5 3l2.5 2l1.5 4l0 6l-1.5 7.5l-2 4l-5.5 1.5l-22 0.5z" fill="#e6a098" fill-rule="evenodd"/>
<path d="M669.5 861.5l19-1.5l0 494.5l-59 0l-1-19.5l-1.5-4.5l-2.5-0.5l-84.5 0l-42-4l-44.5-1l-10-2l-7.5-2.5l-7.5-5l-5-6.5l-2.5-7.5l-3.5-15.5l-1.5-3.5l-4.5-3.5l-12.5-3.5l-6.5-3l-4.5-4l-11.5-13l-5-3.5l-11.5-5l-4-3.5l-3-6l-2-8l-0.5-31l-0.5-4l-3-4l-11-9.5l-3-6l0-11.5l1-4l3.5-4l12-8.5l3.5-5l1-4l0-44.5l1-2l2.5-2l15-6l2-2l2-4l10-29l11.5-50.5l5.5-13.5l3-5l5-4.5l37-11l15-7l20-13.5l14.5-8l7.5-5l19.5-16l17.5-17l20-9l17-9.5l10-4l16-3.5l14-2l17-1z" fill="#e08679" fill-rule="evenodd"/>
<path d="M679.5 863.5l9 0l0 491l-17.5 0l0-74l-2-12.5l-3.5-3.5l-26.5 0l-14.5 4l-5 2.5l-6 5.5l-4 6l-4.5 17.5l-5.5 11l-5 5l-7.5 3.5l-7.5 1l-34.5 0l-47-1.5l-29.5-3.5l-12.5-2.5l-5-1.5l-6-4l-4-4l-5-7l-6-12.5l-3.5-3.5l-7.5-5l-18.5-9l-10-9.5l-9.5-11.5l-6-14l-1-4l-2-54.5l1.5-33l0-46.5l2-4l5.5-6l2-3.5l10.5-31.5l10.5-41.5l3.5-11l4-5l2.5-1.5l39.5-10l10-5l5-4l9.5-9.5l17-13.5l18-12l24.5-22.5l5-3l17.5-5l9.5-4.5l5.5-4l12-12l30-10l24.5-2.5l22.5-6.5z" fill="#dc7060" fill-rule="evenodd"/>
<path d="M670 869.5l6.5-1l12 0l0 129.5l-3.5 23.5l-2.5 11.5l-3 8l-6 7.5l-2 4l-1.5 17.5l-1.5 10l-2 4.5l-2.5 3l-7.5 6l0 74l-2.5 0l-7.5 5.5l-5 5.5l-1.5 4.5l-1.5 11.5l0 35l-1.5 16l-4 3.5l-11 6.5l-7.5 7l-15.5 18l-9.5 19.5l-3.5 3.5l-4 2l-7 0.5l-74.5 0l-10-1l-34.5-7.5l-5-3.5l-9.5-11.5l-5.5-5l-10-6l-17-8.5l-9-8l-7-8l-3.5-5.5l-5.5-12l-1.5-7.5l-1.5-12l1-105l-0.5-13.5l1-2l5-6l2-3.5l20.5-60.5l4-5.5l2.5-2l34.5-13.5l7.5-1l32-1l5-1l3-1.5l1-4l0-23l1-3.5l11-8.5l6-9.5l10-10l7.5-9.5l5-3.5l2.5-1l7.5 0l11.5 2.5l6 2.5l4 3.5l3.5 6l2.5 7.5l0.5 19.5l1.5 7.5l2.5 7l2.5 2.5l2.5 1l5 1l17.5-0.5l2.5-1l2.5-11l2.5-61l1-12l1-3.5l5-6l8-5l27-8z" fill="#d85f4f" fill-rule="evenodd"/>
<path d="M664.5 887l4.5-1l5 1l4.5 4l1.5 4l-1 31l1 21.5l-4.5 48.5l-2 8l-2 4.5l-2.5 3l-15 6.5l-12.5 7.5l-2.5 0l-2.5-4l-2.5-10.5l-3-30.5l-0.5-50.5l2.5-17.5l3.5-14l2.5-4.5l5-2zM541 943.5l2 0l0.5 2l-1 1l-2.5-1zM445.5 1033l8-1l5 1l12.5 5l7.5 5l4.5 4l4 5.5l8.5 17l5 7l20.5 21l4.5 1.5l29.5 5.5l5.5 2.5l2 2l6 8l4.5 9.5l3 9.5l4.5 21.5l1.5 4l2.5 2.5l5 2l5-0.5l7.5-2l10-4.5l5-0.5l2.5 0.5l2 2.5l1.5 60.5l-1 9.5l-5.5 14l-2.5 3.5l-27 32l-5 4l-4.5 1l-35 0.5l-42 2l-42-6l-5-2.5l-13-9.5l-30.5-17.5l-8-7.5l-7.5-12l-5-11.5l-2.5-12l2-105l-1.5-13.5l1-2l6.5-8l9-23.5l7.5-15.5l2.5-2l5-2z" fill="#b9403f" fill-rule="evenodd"/>
<path d="M449.5 1050.5l4 0l5 2l5.5 4l6 5.5l10 12l9.5 13.5l3.5 10l1.5 1.5l6 2.5l27 3.5l10 3.5l5 2.5l7 6l9.5 11.5l5 9.5l7.5 23.5l4.5 10l6 9.5l5 4.5l8 5l5 6l5.5 10l3.5 11.5l0.5 11.5l-5 17.5l-8 10l-12 11.5l-5 1.5l-37 0.5l-44.5 4.5l-39.5-6l-7.5-3l-12-7l-22.5-12l-7.5-6.5l-10-14.5l-5-10l-1.5-6l3.5-105l-2.5-13.5l1-2l7-8l7.5-16.5l5-5.5l5-2z" fill="#a03038" fill-rule="evenodd"/>
<path d="M446 1068l7.5 0l7.5 4l19.5 17.5l3.5 9.5l2.5 2l9 3l13 3l9 4l20 11.5l5 4.5l5 5.5l8.5 15.5l9 25.5l6 13.5l7 9.5l13 13.5l5.5 10l0.5 9.5l-2 16l-2 3.5l-6 6l-5 2.5l-4.5 1l-42.5 2.5l-34.5 3l-12.5-1l-32-6.5l-22.5-8.5l-7.5-4l-6.5-4.5l-14.5-15.5l-5-8l-1.5-6l4-105l0-4l-3-9.5l2.5-4l13.5-11.5l10.5-3.5z" fill="#7c1729" fill-rule="evenodd"/>
<path d="M443 1081.5l5.5-1l5 0l14.5 7l4 4l2 7.5l1.5 2l12 6l28 15.5l12 11l10 6.5l5 5l5 8l3 6.5l5 25.5l5.5 15.5l7 9.5l11.5 9l2.5 3l0.5 4l0 17.5l-1 2l-2 1.5l-9.5 3l-22.5 3l-47 2.5l-44.5-5.5l-10-3l-12.5-6.5l-3.5-3l-8-10l-10.5-7l-4.5-4.5l-2-4l-0.5-5.5l3-53l3.5-48.5l-0.5-4l-4-6.5l-1-3l1-2l5-3z" fill="#690f24" fill-rule="evenodd"/>
<path d="M615.9 1355V1292.4H667.4V1229.6H688V1355Z" fill="#b3b3b3"/>
</g>
<g clip-path="url(#pc_clip)">
<path d="M592.5 875.5h0M610 875.5h0M627 875.5h0M601 884h0M618.5 884h0M636 884h0M653.5 884h0M592.5 893h0M610 893h0M627 893h0M644.5 893h0M662 893h0M583.5 901.5h0M601 901.5h0M618.5 901.5h0M636 901.5h0M653.5 901.5h0M557.5 910.5h0M575 910.5h0M592.5 910.5h0M610 910.5h0M627 910.5h0M644.5 910.5h0M662 910.5h0M679.5 910.5h0M548.5 919h0M566 919h0M583.5 919h0M601 919h0M618.5 919h0M636 919h0M653.5 919h0M671 919h0M540 928h0M557.5 928h0M575 928h0M592.5 928h0M610 928h0M627 928h0M644.5 928h0M662 928h0M679.5 928h0M548.5 936.5h0M566 936.5h0M583.5 936.5h0M601 936.5h0M618.5 936.5h0M636 936.5h0M653.5 936.5h0M671 936.5h0M540 945h0M557.5 945h0M575 945h0M592.5 945h0M610 945h0M627 945h0M644.5 945h0M662 945h0M679.5 945h0M531.5 954h0M548.5 954h0M566 954h0M583.5 954h0M601 954h0M618.5 954h0M636 954h0M653.5 954h0M671 954h0M540 962.5h0M557.5 962.5h0M575 962.5h0M592.5 962.5h0M610 962.5h0M627 962.5h0M644.5 962.5h0M662 962.5h0M679.5 962.5h0M531.5 971.5h0M548.5 971.5h0M566 971.5h0M583.5 971.5h0M601 971.5h0M618.5 971.5h0M636 971.5h0M653.5 971.5h0M671 971.5h0M540 980h0M557.5 980h0M575 980h0M592.5 980h0M610 980h0M627 980h0M644.5 980h0M662 980h0M679.5 980h0M531.5 989h0M548.5 989h0M566 989h0M583.5 989h0M601 989h0M618.5 989h0M636 989h0M653.5 989h0M671 989h0M453 997.5h0M540 997.5h0M557.5 997.5h0M575 997.5h0M592.5 997.5h0M610 997.5h0M627 997.5h0M644.5 997.5h0M662 997.5h0M679.5 997.5h0M426.5 1006.5h0M444 1006.5h0M461.5 1006.5h0M531.5 1006.5h0M548.5 1006.5h0M566 1006.5h0M583.5 1006.5h0M601 1006.5h0M618.5 1006.5h0M636 1006.5h0M653.5 1006.5h0M671 1006.5h0M418 1015h0M435.5 1015h0M453 1015h0M470 1015h0M487.5 1015h0M505 1015h0M522.5 1015h0M540 1015h0M557.5 1015h0M575 1015h0M592.5 1015h0M610 1015h0M627 1015h0M644.5 1015h0M662 1015h0M679.5 1015h0M409 1023.5h0M426.5 1023.5h0M444 1023.5h0M461.5 1023.5h0M479 1023.5h0M496.5 1023.5h0M514 1023.5h0M531.5 1023.5h0M548.5 1023.5h0M566 1023.5h0M583.5 1023.5h0M601 1023.5h0M618.5 1023.5h0M636 1023.5h0M653.5 1023.5h0M671 1023.5h0M400.5 1032.5h0M418 1032.5h0M435.5 1032.5h0M453 1032.5h0M470 1032.5h0M487.5 1032.5h0M505 1032.5h0M522.5 1032.5h0M540 1032.5h0M557.5 1032.5h0M575 1032.5h0M592.5 1032.5h0M610 1032.5h0M627 1032.5h0M644.5 1032.5h0M662 1032.5h0M679.5 1032.5h0M409 1041h0M426.5 1041h0M444 1041h0M461.5 1041h0M479 1041h0M496.5 1041h0M514 1041h0M531.5 1041h0M548.5 1041h0M566 1041h0M583.5 1041h0M601 1041h0M618.5 1041h0M636 1041h0M653.5 1041h0M671 1041h0M400.5 1050h0M418 1050h0M435.5 1050h0M453 1050h0M470 1050h0M487.5 1050h0M505 1050h0M522.5 1050h0M540 1050h0M557.5 1050h0M575 1050h0M592.5 1050h0M610 1050h0M627 1050h0M644.5 1050h0M662 1050h0M679.5 1050h0M391.5 1058.5h0M409 1058.5h0M426.5 1058.5h0M444 1058.5h0M461.5 1058.5h0M479 1058.5h0M496.5 1058.5h0M514 1058.5h0M531.5 1058.5h0M548.5 1058.5h0M566 1058.5h0M583.5 1058.5h0M601 1058.5h0M618.5 1058.5h0M636 1058.5h0M653.5 1058.5h0M671 1058.5h0M400.5 1067.5h0M418 1067.5h0M435.5 1067.5h0M453 1067.5h0M470 1067.5h0M487.5 1067.5h0M505 1067.5h0M522.5 1067.5h0M540 1067.5h0M557.5 1067.5h0M575 1067.5h0M592.5 1067.5h0M610 1067.5h0M627 1067.5h0M644.5 1067.5h0M662 1067.5h0M679.5 1067.5h0M391.5 1076h0M409 1076h0M426.5 1076h0M444 1076h0M461.5 1076h0M479 1076h0M496.5 1076h0M514 1076h0M531.5 1076h0M548.5 1076h0M566 1076h0M583.5 1076h0M601 1076h0M618.5 1076h0M636 1076h0M653.5 1076h0M671 1076h0M383 1085h0M400.5 1085h0M418 1085h0M435.5 1085h0M453 1085h0M470 1085h0M487.5 1085h0M505 1085h0M522.5 1085h0M540 1085h0M557.5 1085h0M575 1085h0M592.5 1085h0M610 1085h0M627 1085h0M644.5 1085h0M662 1085h0M679.5 1085h0M391.5 1093.5h0M409 1093.5h0M426.5 1093.5h0M444 1093.5h0M461.5 1093.5h0M479 1093.5h0M496.5 1093.5h0M514 1093.5h0M531.5 1093.5h0M548.5 1093.5h0M566 1093.5h0M583.5 1093.5h0M601 1093.5h0M618.5 1093.5h0M636 1093.5h0M653.5 1093.5h0M671 1093.5h0M383 1102h0M400.5 1102h0M418 1102h0M435.5 1102h0M453 1102h0M470 1102h0M487.5 1102h0M505 1102h0M522.5 1102h0M540 1102h0M557.5 1102h0M575 1102h0M592.5 1102h0M610 1102h0M627 1102h0M644.5 1102h0M662 1102h0M679.5 1102h0M391.5 1111h0M409 1111h0M426.5 1111h0M444 1111h0M461.5 1111h0M479 1111h0M496.5 1111h0M514 1111h0M531.5 1111h0M548.5 1111h0M566 1111h0M583.5 1111h0M601 1111h0M618.5 1111h0M636 1111h0M653.5 1111h0M671 1111h0M383 1119.5h0M400.5 1119.5h0M418 1119.5h0M435.5 1119.5h0M453 1119.5h0M470 1119.5h0M487.5 1119.5h0M505 1119.5h0M522.5 1119.5h0M540 1119.5h0M557.5 1119.5h0M575 1119.5h0M592.5 1119.5h0M610 1119.5h0M627 1119.5h0M644.5 1119.5h0M662 1119.5h0M679.5 1119.5h0M391.5 1128.5h0M409 1128.5h0M426.5 1128.5h0M444 1128.5h0M461.5 1128.5h0M479 1128.5h0M496.5 1128.5h0M514 1128.5h0M531.5 1128.5h0M548.5 1128.5h0M566 1128.5h0M583.5 1128.5h0M601 1128.5h0M618.5 1128.5h0M636 1128.5h0M653.5 1128.5h0M671 1128.5h0M330.5 1137h0M348 1137h0M365.5 1137h0M383 1137h0M400.5 1137h0M418 1137h0M435.5 1137h0M453 1137h0M470 1137h0M487.5 1137h0M505 1137h0M522.5 1137h0M540 1137h0M557.5 1137h0M575 1137h0M592.5 1137h0M610 1137h0M627 1137h0M644.5 1137h0M662 1137h0M679.5 1137h0M322 1146h0M339.5 1146h0M357 1146h0M374 1146h0M391.5 1146h0M409 1146h0M426.5 1146h0M444 1146h0M461.5 1146h0M479 1146h0M496.5 1146h0M514 1146h0M531.5 1146h0M548.5 1146h0M566 1146h0M583.5 1146h0M601 1146h0M618.5 1146h0M636 1146h0M653.5 1146h0M671 1146h0M313 1154.5h0M330.5 1154.5h0M348 1154.5h0M365.5 1154.5h0M383 1154.5h0M400.5 1154.5h0M418 1154.5h0M435.5 1154.5h0M453 1154.5h0M470 1154.5h0M487.5 1154.5h0M505 1154.5h0M522.5 1154.5h0M540 1154.5h0M557.5 1154.5h0M575 1154.5h0M592.5 1154.5h0M610 1154.5h0M627 1154.5h0M644.5 1154.5h0M662 1154.5h0M679.5 1154.5h0M322 1163h0M339.5 1163h0M357 1163h0M374 1163h0M391.5 1163h0M409 1163h0M426.5 1163h0M444 1163h0M461.5 1163h0M479 1163h0M496.5 1163h0M514 1163h0M531.5 1163h0M548.5 1163h0M566 1163h0M583.5 1163h0M601 1163h0M618.5 1163h0M636 1163h0M653.5 1163h0M671 1163h0M313 1172h0M330.5 1172h0M348 1172h0M365.5 1172h0M383 1172h0M400.5 1172h0M418 1172h0M435.5 1172h0M453 1172h0M470 1172h0M487.5 1172h0M505 1172h0M522.5 1172h0M540 1172h0M557.5 1172h0M575 1172h0M592.5 1172h0M610 1172h0M627 1172h0M644.5 1172h0M662 1172h0M679.5 1172h0M322 1180.5h0M339.5 1180.5h0M357 1180.5h0M374 1180.5h0M391.5 1180.5h0M409 1180.5h0M426.5 1180.5h0M444 1180.5h0M461.5 1180.5h0M479 1180.5h0M496.5 1180.5h0M514 1180.5h0M531.5 1180.5h0M548.5 1180.5h0M566 1180.5h0M583.5 1180.5h0M601 1180.5h0M618.5 1180.5h0M636 1180.5h0M653.5 1180.5h0M671 1180.5h0M313 1189.5h0M330.5 1189.5h0M348 1189.5h0M365.5 1189.5h0M383 1189.5h0M400.5 1189.5h0M418 1189.5h0M435.5 1189.5h0M453 1189.5h0M470 1189.5h0M487.5 1189.5h0M505 1189.5h0M522.5 1189.5h0M540 1189.5h0M557.5 1189.5h0M575 1189.5h0M592.5 1189.5h0M610 1189.5h0M627 1189.5h0M644.5 1189.5h0M662 1189.5h0M679.5 1189.5h0M322 1198h0M339.5 1198h0M357 1198h0M374 1198h0M391.5 1198h0M409 1198h0M426.5 1198h0M444 1198h0M461.5 1198h0M479 1198h0M496.5 1198h0M514 1198h0M531.5 1198h0M548.5 1198h0M566 1198h0M583.5 1198h0M601 1198h0M618.5 1198h0M636 1198h0M653.5 1198h0M671 1198h0M313 1207h0M330.5 1207h0M365.5 1207h0M383 1207h0M400.5 1207h0M418 1207h0M435.5 1207h0M453 1207h0M470 1207h0M487.5 1207h0M505 1207h0M522.5 1207h0M540 1207h0M557.5 1207h0M575 1207h0M592.5 1207h0M610 1207h0M627 1207h0M644.5 1207h0M662 1207h0M679.5 1207h0M322 1215.5h0M357 1215.5h0M374 1215.5h0M391.5 1215.5h0M409 1215.5h0M426.5 1215.5h0M444 1215.5h0M461.5 1215.5h0M479 1215.5h0M496.5 1215.5h0M514 1215.5h0M531.5 1215.5h0M548.5 1215.5h0M566 1215.5h0M583.5 1215.5h0M601 1215.5h0M618.5 1215.5h0M636 1215.5h0M653.5 1215.5h0M671 1215.5h0M313 1224.5h0M330.5 1224.5h0M365.5 1224.5h0M383 1224.5h0M400.5 1224.5h0M418 1224.5h0M435.5 1224.5h0M453 1224.5h0M470 1224.5h0M487.5 1224.5h0M505 1224.5h0M522.5 1224.5h0M540 1224.5h0M557.5 1224.5h0M575 1224.5h0M592.5 1224.5h0M610 1224.5h0M627 1224.5h0M644.5 1224.5h0M662 1224.5h0M679.5 1224.5h0M322 1233h0M357 1233h0M374 1233h0M391.5 1233h0M409 1233h0M426.5 1233h0M444 1233h0M461.5 1233h0M479 1233h0M496.5 1233h0M514 1233h0M531.5 1233h0M548.5 1233h0M566 1233h0M583.5 1233h0M601 1233h0M618.5 1233h0M636 1233h0M653.5 1233h0M313 1241.5h0M330.5 1241.5h0M365.5 1241.5h0M383 1241.5h0M400.5 1241.5h0M418 1241.5h0M435.5 1241.5h0M453 1241.5h0M470 1241.5h0M487.5 1241.5h0M505 1241.5h0M522.5 1241.5h0M540 1241.5h0M557.5 1241.5h0M575 1241.5h0M592.5 1241.5h0M610 1241.5h0M627 1241.5h0M644.5 1241.5h0M662 1241.5h0M322 1250.5h0M339.5 1250.5h0M357 1250.5h0M374 1250.5h0M391.5 1250.5h0M409 1250.5h0M426.5 1250.5h0M444 1250.5h0M461.5 1250.5h0M479 1250.5h0M496.5 1250.5h0M514 1250.5h0M531.5 1250.5h0M548.5 1250.5h0M566 1250.5h0M583.5 1250.5h0M601 1250.5h0M618.5 1250.5h0M636 1250.5h0M653.5 1250.5h0M470 1259h0M487.5 1259h0M505 1259h0M522.5 1259h0M540 1259h0M557.5 1259h0M575 1259h0M592.5 1259h0M610 1259h0M662 1259h0M479 1268h0M496.5 1268h0M514 1268h0M531.5 1268h0M548.5 1268h0M566 1268h0M583.5 1268h0M470 1276.5h0M487.5 1276.5h0M522.5 1276.5h0M540 1276.5h0M557.5 1276.5h0M575 1276.5h0M592.5 1276.5h0M662 1276.5h0M479 1285.5h0M496.5 1285.5h0M514 1285.5h0M531.5 1285.5h0M548.5 1285.5h0M566 1285.5h0M583.5 1285.5h0M470 1294h0M487.5 1294h0M522.5 1294h0M540 1294h0M557.5 1294h0M575 1294h0M592.5 1294h0M479 1303h0M496.5 1303h0M514 1303h0M531.5 1303h0M548.5 1303h0M566 1303h0M583.5 1303h0M470 1311.5h0M487.5 1311.5h0M522.5 1311.5h0M540 1311.5h0M557.5 1311.5h0M575 1311.5h0M592.5 1311.5h0M479 1320h0M496.5 1320h0M514 1320h0M531.5 1320h0M548.5 1320h0M566 1320h0M583.5 1320h0" fill="none" stroke="#000" stroke-width="4.8" stroke-linecap="round"/>
<path d="M146.3 868.8L160.9 867L180.1 864.4L195.8 858.3L215 857.4L230.7 867.9L248.2 876.6L272.6 885.4L297 897.6L323.2 909.8L354.6 918.5L384.3 922L400 922.4" fill="none" stroke="#000" stroke-width="3.8" stroke-linejoin="round" stroke-linecap="round"/>
<path d="M146.3 888.9L164.4 889.7L185.4 889.7L199.3 882.7L213.3 882.7L230.7 894.1L251.7 909.8L267.4 913.3L297 929L331.9 944.7L366.8 960.4L391.3 970" fill="none" stroke="#000" stroke-width="3.8" stroke-linejoin="round" stroke-linecap="round"/>
<path d="M232.5 850.1L244.7 855.7L272.6 864.4L297 876.6L323.2 883.6L351.1 892.3L380.8 892L408.7 885.7L430 881.9L436.2 881L453.6 876.6L467.6 867.9L476.3 860.1L495.5 850.8" fill="none" stroke="#000" stroke-width="3.8" stroke-linejoin="round" stroke-linecap="round"/>
<path d="M307.5 850.1L318 853.1L333.7 857.4L330.2 861.8L335.4 866.2L347.6 871.4L366.8 870L393 866.2L396.5 857.4L405.2 853.1L407 850.1" fill="none" stroke="#000" stroke-width="3.8" stroke-linejoin="round" stroke-linecap="round"/>
<path d="M427.4 920.3L444.9 918.5L460.6 915L479.8 904.6L500.7 890.6L514.7 884.5L528.7 880.1L542.6 871.4L567 867L588 863.6L600.2 858.8L615.9 860.1L636.8 867L650.8 876.6L663 890.6L668.2 892L689.2 892" fill="none" stroke="#000" stroke-width="3.8" stroke-linejoin="round" stroke-linecap="round"/>
<path d="M417 983.1L427.4 989.2L437.9 1002.3L450.1 1014.5L464.1 1017.1L476.3 1009.3L486.8 997L495.5 977.8L506.8 967.4L511.2 983.1L514.7 1005.8L519.1 1029.3L530.4 1029.3L535.6 1004L542.6 984.8L551.3 972.6" fill="none" stroke="#000" stroke-width="3.8" stroke-linejoin="round" stroke-linecap="round"/>
<path d="M567 970L575.8 962.1L581 979.6L591.5 990.1L593.2 967.4L597.6 946.4L603.7 962.1L607.2 997L608.9 1031.9L612.4 1058.1L615.9 1075.6L624.6 1098.2L629.9 1105.2L643.8 1108.7" fill="none" stroke="#000" stroke-width="3.8" stroke-linejoin="round" stroke-linecap="round"/>
<path d="M663 1101.7L671.7 1084.3L678.7 1058.1L685.7 1031.9L689.2 1023.2" fill="none" stroke="#000" stroke-width="3.8" stroke-linejoin="round" stroke-linecap="round"/>
<path d="M146.3 1097L160.9 1097.9L174.9 1103.1L181.9 1121.4L188.9 1142.3L199.3 1165L209.8 1184.2L218.5 1199.9L244.7 1201.7L265.6 1203.4L281.3 1208.7L286.6 1229.6L292.7 1255.8L290.9 1273.2L289.2 1290.7L287.4 1304.6" fill="none" stroke="#000" stroke-width="7" stroke-linejoin="miter" stroke-linecap="round"/>
<path d="M284.8 1332.5L283.1 1341.3L277.8 1348.2L270.9 1355.2" fill="none" stroke="#000" stroke-width="7" stroke-linejoin="miter" stroke-linecap="round"/>
<path d="M146.3 1322.1L160.9 1320.3L178.4 1321.2L194.1 1327.3L208.1 1336L223.8 1339.5L235.1 1355.2" fill="none" stroke="#000" stroke-width="7" stroke-linejoin="miter" stroke-linecap="round"/>
<path d="M347.6 1261L338.9 1251.4L333.7 1261L325.8 1275L326.7 1299.4L329.3 1325.6L343.3 1348.2L356.4 1336L370.3 1334.3L387.8 1329.9L401.7 1332.5L415.7 1350L420.9 1325.6L426.2 1290.7L401.7 1281.9L384.3 1275.8L371.2 1273.2" fill="none" stroke="#000" stroke-width="7" stroke-linejoin="miter" stroke-linecap="round"/>
</g>
<text font-size="22.5" stroke="#000" stroke-width="0.5" text-anchor="middle" transform="translate(413.9 923.4) rotate(0) scale(1 1.08) skewX(-10)" dy="0.36em">2</text>
<text font-size="22.5" stroke="#000" stroke-width="0.5" text-anchor="middle" transform="translate(404.4 977.8) rotate(25) scale(1 1.08) skewX(-10)" dy="0.36em">1</text>
<text font-size="22.5" stroke="#000" stroke-width="0.5" text-anchor="middle" transform="translate(560.9 977.8) rotate(-20) scale(1 1.08) skewX(-10)" dy="0.36em">1</text>
<text font-size="22.5" stroke="#000" stroke-width="0.5" text-anchor="middle" transform="translate(653.4 1109.6) rotate(25) scale(1 1.08) skewX(-10)" dy="0.36em">1</text>
<text font-size="22.5" stroke="#000" stroke-width="0.5" text-anchor="middle" transform="translate(286.6 1318.6) rotate(85) scale(1 1.08) skewX(-10)" dy="0.36em">0</text>
<text font-size="22.5" stroke="#000" stroke-width="0.5" text-anchor="middle" transform="translate(357.2 1269.7) rotate(20) scale(1 1.08) skewX(-10)" dy="0.36em">0</text>
<rect x="146.3" y="850.0" width="541.7" height="504.3" fill="none" stroke="#000" stroke-width="4"/>
<line x1="128.3" y1="976.1" x2="146.3" y2="976.1" stroke="#000" stroke-width="3.6"/>
<text transform="translate(111.8 987.6) scale(1 1.08)" font-size="30" text-anchor="end" fill="#000" stroke="#000" stroke-width="0.45">1000</text>
<line x1="128.3" y1="1102.2" x2="146.3" y2="1102.2" stroke="#000" stroke-width="3.6"/>
<text transform="translate(111.8 1113.7) scale(1 1.08)" font-size="30" text-anchor="end" fill="#000" stroke="#000" stroke-width="0.45">2000</text>
<line x1="128.3" y1="1228.2" x2="146.3" y2="1228.2" stroke="#000" stroke-width="3.6"/>
<text transform="translate(111.8 1239.7) scale(1 1.08)" font-size="30" text-anchor="end" fill="#000" stroke="#000" stroke-width="0.45">3000</text>
<line x1="128.3" y1="1354.3" x2="146.3" y2="1354.3" stroke="#000" stroke-width="3.6"/>
<text transform="translate(111.8 1365.8) scale(1 1.08)" font-size="30" text-anchor="end" fill="#000" stroke="#000" stroke-width="0.45">4000</text>
<line x1="146.3" y1="1354.3" x2="146.3" y2="1370.3" stroke="#000" stroke-width="3.6"/>
<text transform="translate(146.3 1415.5) scale(1 1.08)" font-size="30" text-anchor="middle" fill="#000" stroke="#000" stroke-width="0.45">0</text>
<line x1="404.6" y1="1354.3" x2="404.6" y2="1370.3" stroke="#000" stroke-width="3.6"/>
<text transform="translate(404.6 1415.5) scale(1 1.08)" font-size="30" text-anchor="middle" fill="#000" stroke="#000" stroke-width="0.45">30<tspan font-size="22" dy="-12">o</tspan><tspan dy="12">N</tspan></text>
<line x1="662.9" y1="1354.3" x2="662.9" y2="1370.3" stroke="#000" stroke-width="3.6"/>
<text transform="translate(662.9 1415.5) scale(1 1.08)" font-size="30" text-anchor="middle" fill="#000" stroke="#000" stroke-width="0.45">60<tspan font-size="22" dy="-12">o</tspan><tspan dy="12">N</tspan></text>
<text x="22.0" y="1103.0" font-size="30" text-anchor="middle" fill="#000" stroke="#000" stroke-width="0.45" transform="rotate(-90 22.0 1103.0)">Depth (m)</text>
<text x="146.0" y="835.0" font-size="30" text-anchor="start" fill="#000" stroke="#000" stroke-width="0.45">c)</text>
<path d="M174.8 1445.6L150.8 1457.2L174.8 1468.8Z" fill="#113a70" stroke="#000" stroke-width="1.7" stroke-linejoin="miter"/>
<path d="M661.5 1445.6L685.5 1457.2L661.5 1468.8Z" fill="#690f24" stroke="#000" stroke-width="1.7" stroke-linejoin="miter"/>
<rect x="174.80" y="1445.6" width="24.34" height="23.2" fill="#1f4f88" stroke="#000" stroke-width="1.7"/>
<rect x="199.14" y="1445.6" width="24.34" height="23.2" fill="#2a66a2" stroke="#000" stroke-width="1.7"/>
<rect x="223.47" y="1445.6" width="24.34" height="23.2" fill="#3477b0" stroke="#000" stroke-width="1.7"/>
<rect x="247.81" y="1445.6" width="24.34" height="23.2" fill="#3f8dc4" stroke="#000" stroke-width="1.7"/>
<rect x="272.14" y="1445.6" width="24.34" height="23.2" fill="#579fcd" stroke="#000" stroke-width="1.7"/>
<rect x="296.48" y="1445.6" width="24.34" height="23.2" fill="#78b0d6" stroke="#000" stroke-width="1.7"/>
<rect x="320.81" y="1445.6" width="24.34" height="23.2" fill="#92bfdc" stroke="#000" stroke-width="1.7"/>
<rect x="345.14" y="1445.6" width="24.34" height="23.2" fill="#aacfe5" stroke="#000" stroke-width="1.7"/>
<rect x="369.48" y="1445.6" width="24.34" height="23.2" fill="#cde0ee" stroke="#000" stroke-width="1.7"/>
<rect x="393.82" y="1445.6" width="24.34" height="23.2" fill="#e8eef3" stroke="#000" stroke-width="1.7"/>
<rect x="418.15" y="1445.6" width="24.34" height="23.2" fill="#f7ebe8" stroke="#000" stroke-width="1.7"/>
<rect x="442.49" y="1445.6" width="24.34" height="23.2" fill="#f2d3cf" stroke="#000" stroke-width="1.7"/>
<rect x="466.82" y="1445.6" width="24.34" height="23.2" fill="#edbab3" stroke="#000" stroke-width="1.7"/>
<rect x="491.16" y="1445.6" width="24.34" height="23.2" fill="#e6a098" stroke="#000" stroke-width="1.7"/>
<rect x="515.49" y="1445.6" width="24.34" height="23.2" fill="#e08679" stroke="#000" stroke-width="1.7"/>
<rect x="539.83" y="1445.6" width="24.34" height="23.2" fill="#dc7060" stroke="#000" stroke-width="1.7"/>
<rect x="564.16" y="1445.6" width="24.34" height="23.2" fill="#d85f4f" stroke="#000" stroke-width="1.7"/>
<rect x="588.50" y="1445.6" width="24.34" height="23.2" fill="#b9403f" stroke="#000" stroke-width="1.7"/>
<rect x="612.83" y="1445.6" width="24.34" height="23.2" fill="#a03038" stroke="#000" stroke-width="1.7"/>
<rect x="637.16" y="1445.6" width="24.34" height="23.2" fill="#7c1729" stroke="#000" stroke-width="1.7"/>
<text transform="translate(223.5 1498.0) scale(1 1.08)" font-size="30" text-anchor="middle" fill="#000" stroke="#000" stroke-width="0.45">-0.4</text>
<text transform="translate(320.8 1498.0) scale(1 1.08)" font-size="30" text-anchor="middle" fill="#000" stroke="#000" stroke-width="0.45">-0.2</text>
<text transform="translate(418.2 1498.0) scale(1 1.08)" font-size="30" text-anchor="middle" fill="#000" stroke="#000" stroke-width="0.45">0</text>
<text transform="translate(515.5 1498.0) scale(1 1.08)" font-size="30" text-anchor="middle" fill="#000" stroke="#000" stroke-width="0.45">0.2</text>
<text transform="translate(612.8 1498.0) scale(1 1.08)" font-size="30" text-anchor="middle" fill="#000" stroke="#000" stroke-width="0.45">0.4</text>
<text x="417.0" y="1541.5" font-size="30" text-anchor="middle" stroke="#000" stroke-width="0.45">DIC (mol C m<tspan font-size="19" dy="-14">-2</tspan><tspan dy="14">)</tspan></text>
</g>
<g id="pd">
<rect x="934.8" y="850" width="520.0" height="521" fill="#fff"/>
<circle cx="970.6" cy="1153.8" r="9.6" fill="#87ceeb"/>
<circle cx="983.3" cy="1154.3" r="9.6" fill="#87ceeb"/>
<circle cx="1091.9" cy="1067.4" r="9.6" fill="#87ceeb"/>
<circle cx="1115.8" cy="1033.9" r="9.6" fill="#87ceeb"/>
<circle cx="1170.6" cy="1073.3" r="9.6" fill="#87ceeb"/>
<circle cx="1188.7" cy="1057.9" r="9.6" fill="#87ceeb"/>
<circle cx="1192.8" cy="1066.5" r="9.6" fill="#87ceeb"/>
<circle cx="1193.2" cy="1037.1" r="9.6" fill="#87ceeb"/>
<circle cx="1232.1" cy="1039.8" r="9.6" fill="#87ceeb"/>
<circle cx="970.6" cy="1316.3" r="9.6" fill="#87ceeb"/>
<circle cx="983.3" cy="1312.2" r="9.6" fill="#87ceeb"/>
<circle cx="1091.9" cy="1311.8" r="9.6" fill="#87ceeb"/>
<circle cx="1170.6" cy="1275.1" r="9.6" fill="#87ceeb"/>
<circle cx="1190.0" cy="1305.4" r="9.6" fill="#87ceeb"/>
<circle cx="1192.8" cy="1300.0" r="9.6" fill="#87ceeb"/>
<circle cx="1232.1" cy="1307.7" r="9.6" fill="#87ceeb"/>
<circle cx="1240.3" cy="901.8" r="9.6" fill="#ffc0cb"/>
<circle cx="1233.0" cy="1062.4" r="9.6" fill="#ffc0cb"/>
<circle cx="1303.6" cy="968.3" r="9.6" fill="#ffc0cb"/>
<circle cx="1330.3" cy="932.6" r="9.6" fill="#ffc0cb"/>
<circle cx="1340.7" cy="910.0" r="9.6" fill="#ffc0cb"/>
<circle cx="1354.8" cy="914.9" r="9.6" fill="#ffc0cb"/>
<circle cx="1364.3" cy="902.3" r="9.6" fill="#ffc0cb"/>
<circle cx="1346.2" cy="961.5" r="9.6" fill="#ffc0cb"/>
<circle cx="1338.0" cy="993.7" r="9.6" fill="#ffc0cb"/>
<circle cx="1240.3" cy="1272.9" r="9.6" fill="#ffc0cb"/>
<circle cx="1233.0" cy="1313.6" r="9.6" fill="#ffc0cb"/>
<circle cx="1303.6" cy="1265.2" r="9.6" fill="#ffc0cb"/>
<circle cx="1338.5" cy="1300.9" r="9.6" fill="#ffc0cb"/>
<circle cx="1346.2" cy="1275.1" r="9.6" fill="#ffc0cb"/>
<circle cx="1354.8" cy="1277.4" r="9.6" fill="#ffc0cb"/>
<circle cx="1364.3" cy="1283.7" r="9.6" fill="#ffc0cb"/>
<circle cx="1126.2" cy="1076.0" r="24.6" fill="#0000ff" stroke="#000" stroke-width="2.5"/>
<circle cx="1316.7" cy="949.8" r="24.6" fill="#ff0000" stroke="#000" stroke-width="2.5"/>
<circle cx="1126.2" cy="1303.6" r="24.6" fill="#0000ff" stroke="#000" stroke-width="2.5"/>
<circle cx="1316.7" cy="1283.7" r="24.6" fill="#ff0000" stroke="#000" stroke-width="2.5"/>
<line x1="934.8" y1="1203.0" x2="1454.8" y2="1203.0" stroke="#000" stroke-width="3"/>
<rect x="934.8" y="850.0" width="520.0" height="521.0" fill="none" stroke="#000" stroke-width="4"/>
<line x1="925.8" y1="1314.6" x2="934.8" y2="1314.6" stroke="#000" stroke-width="1.8"/>
<line x1="916.8" y1="1240.3" x2="934.8" y2="1240.3" stroke="#000" stroke-width="3.6"/>
<text transform="translate(900.8 1251.3) scale(1 1.08)" font-size="30" text-anchor="end" fill="#000" stroke="#000" stroke-width="0.45">20</text>
<line x1="925.8" y1="1166.0" x2="934.8" y2="1166.0" stroke="#000" stroke-width="1.8"/>
<line x1="916.8" y1="1091.7" x2="934.8" y2="1091.7" stroke="#000" stroke-width="3.6"/>
<text transform="translate(900.8 1102.7) scale(1 1.08)" font-size="30" text-anchor="end" fill="#000" stroke="#000" stroke-width="0.45">40</text>
<line x1="925.8" y1="1017.4" x2="934.8" y2="1017.4" stroke="#000" stroke-width="1.8"/>
<line x1="916.8" y1="943.1" x2="934.8" y2="943.1" stroke="#000" stroke-width="3.6"/>
<text transform="translate(900.8 954.1) scale(1 1.08)" font-size="30" text-anchor="end" fill="#000" stroke="#000" stroke-width="0.45">60</text>
<line x1="925.8" y1="868.8" x2="934.8" y2="868.8" stroke="#000" stroke-width="1.8"/>
<line x1="977.8" y1="1371.0" x2="977.8" y2="1387.0" stroke="#000" stroke-width="3.6"/>
<text transform="translate(977.8 1428.0) scale(1 1.08)" font-size="30" text-anchor="middle" fill="#000" stroke="#000" stroke-width="0.45">33</text>
<line x1="1064.6" y1="1371.0" x2="1064.6" y2="1379.5" stroke="#000" stroke-width="1.8"/>
<line x1="1151.4" y1="1371.0" x2="1151.4" y2="1387.0" stroke="#000" stroke-width="3.6"/>
<text transform="translate(1151.4 1428.0) scale(1 1.08)" font-size="30" text-anchor="middle" fill="#000" stroke="#000" stroke-width="0.45">34</text>
<line x1="1238.2" y1="1371.0" x2="1238.2" y2="1379.5" stroke="#000" stroke-width="1.8"/>
<line x1="1325.0" y1="1371.0" x2="1325.0" y2="1387.0" stroke="#000" stroke-width="3.6"/>
<text transform="translate(1325.0 1428.0) scale(1 1.08)" font-size="30" text-anchor="middle" fill="#000" stroke="#000" stroke-width="0.45">35</text>
<line x1="1411.8" y1="1371.0" x2="1411.8" y2="1379.5" stroke="#000" stroke-width="1.8"/>
<text x="1195.0" y="1470.0" font-size="30" text-anchor="middle" fill="#000" stroke="#000" stroke-width="0.45">SSS (psu)</text>
<text x="845.0" y="1110.0" font-size="30" text-anchor="middle" fill="#000" stroke="#000" stroke-width="0.45" transform="rotate(-90 845.0 1110.0)">cumulative carbon uptake in NA (Pg C)</text>
<text x="933.0" y="840.0" font-size="30" text-anchor="start" fill="#000" stroke="#000" stroke-width="0.45">d)</text>
<text x="950.5" y="890.5" font-size="22.5" text-anchor="start" fill="#e8000b" stroke="#e8000b" stroke-width="0.35">Strong group</text>
<text x="950.5" y="925.5" font-size="22.5" text-anchor="start" fill="#0000cd" stroke="#0000cd" stroke-width="0.35">Weak group</text>
<text x="1412.5" y="1197.0" font-size="22.4" text-anchor="end" fill="#000" stroke="#000" stroke-width="0.35">future climate</text>
<text x="1412.5" y="1224.5" font-size="22.4" text-anchor="end" fill="#000" stroke="#000" stroke-width="0.35">present-day</text>
</g>
<g id="pe">
<circle cx="1877" cy="1110.3" r="259.5" fill="#aacfe5"/>
<clipPath id="pe_clip"><circle cx="1877.0" cy="1110.3" r="259.5"/></clipPath>
<g clip-path="url(#pe_clip)">
<circle cx="1877.0" cy="1110.3" r="260.5" fill="#113a70"/>
<path d="M1600 835l558 0l0 558l-558 0zM1772 1175l-2 2.5l-0.5 7.5l1.5 2l3 1.5l2 0.5l2-0.5l2-1.5l1-2l-0.5-8l-2.5-2zM1844 1070l-4 3.5l-2.5 5.5l0 8l2.5 8l11 20l5 12.5l9.5 19.5l6 18l2 2l3.5 2l7 2l10-1.5l7.5-2.5l37-26l1-4l-3-10l-9-16l-1.5-4.5l0-3.5l1-8l-0.5-4l-6-10l-2.5-2.5l-10-2.5l-8 0l-26 3.5l-6 0l-6-2.5l-8-6.5l-6-1z" fill="#1f4f88" fill-rule="evenodd"/>
<path d="M1600 835l558 0l0 558l-558 0zM1770 1174.5l-1 2.5l-1 6l1 4l3 2l4 1.5l4-1.5l2.5-4l0-6l-1-4l-1.5-1l-4-0.5l-4 0zM1844 1059l-8 5.5l-3 4.5l-1 6l2 8l5 14l11 18.5l5.5 13.5l9 18l5 16l2.5 4.5l4 2.5l6 2l6 0.5l4-1.5l6-1l8-4l26-17l7-6l2.5-4l0-2l-6.5-22l-3-22l-6-16.5l-3-5.5l-3-3.5l-10-5l-10-2.5l-32 0.5l-18-3z" fill="#2a66a2" fill-rule="evenodd"/>
<path d="M1600 835l558 0l0 558l-558 0zM1772 1172.5l-2 0.5l-2 3l-1 9l1 2.5l4 3l4 2l2-0.5l5.5-5l0.5-4l-1.5-8l-2.5-2zM1850 1046.5l-10 4.5l-11 8l-2.5 4l-1.5 4l0.5 8l2.5 8l4.5 10l18.5 30l9 18l6 13l3.5 11l1 2l3.5 3.5l8 4l8 1l6-0.5l6-2l14-7l16-8.5l6-4.5l6-6l3-4l1-4l0-4l-9.5-46l-6-16l-5-10l-3.5-3.5l-6-4l-12-7l-6-2.5l-8-0.5l-32 0z" fill="#3477b0" fill-rule="evenodd"/>
<path d="M1600 835l558 0l0 558l-558 0zM1770 1172.5l-2.5 2.5l-1.5 6.5l-4 10l-1 5.5l2 6l7 8l4.5 4l5.5 3.5l19.5 8.5l4.5 0.5l8-0.5l4-0.5l4-2l1-1.5l0.5-2l-3-6l-25.5-22l-4-6l-6.5-14l-4.5-1.5zM1880 1033l-22 1l-6 1l-6 2l-12 7l-8 5l-4.5 4l-3 8l-0.5 8l3 10l6 12l8 14l12.5 18l17.5 36l7 13l4 4.5l4 2l8 1.5l8 0l8-1.5l12-5l20-9l8-5l6-6.5l5.5-8l1.5-6l-0.5-8l-3.5-26l-6.5-24l-5.5-14l-9.5-16l-7.5-6.5l-20-10.5l-8-1.5z" fill="#3f8dc4" fill-rule="evenodd"/>
<path d="M1600 835l558 0l0 558l-558 0zM1772 1171l-4.5 2l-1.5 3l-3 3l-6.5 14l-2 6l0.5 4l2 4l8.5 10l8.5 7l16 7.5l8 3l8 0.5l12-1l6-1.5l4-2.5l2-3l0.5-4l-2-6l-4-6l-6.5-5.5l-21.5-16.5l-3-4l-5.5-10l-2-2l-4-2zM1878 1023l-22 1.5l-8 1.5l-17.5 7l-12.5 6.5l-5 5.5l-4 10l-0.5 8l2.5 8l7.5 16l8.5 14l9.5 14l5.5 4l4 4l6.5 14l1.5 10l2.5 6l10.5 20l6 8l7 3.5l22 3l20-2l16-4.5l20-10l5-4l3.5-6l4.5-16l1-8l-3-30l-3-11l-6-17l-5.5-12l-8-14l-6.5-9l-6-5.5l-13.5-7.5l-16.5-7l-10-1.5z" fill="#579fcd" fill-rule="evenodd"/>
<path d="M1600 835l558 0l0 558l-558 0zM1866 1013l-16 2.5l-12 4l-16 8l-12 7.5l-5 6l-15.5 26l-5 12l-3.5 14l-1.5 10l0 10l1 12l2.5 10l4 12l3.5 8l4.5 8l6 8l1 0.5l0.5-4.5l2-4l2.5-8l0-4l-4.5-8l-11.5-12l-0.5-6l0.5-4l1-1l2-1.5l8-2.5l18-3.5l10 1.5l6 2l7 5l2.5 4l6 14l1 4l-15.5 44l-3 3l-4 0.5l-6-2l-6 0l-2-1.5l-1.5 0l-0.5 1l-5-1l-9-4.5l-2.5-3.5l-4-8l-3.5-3.5l-6-2l-6 1l-8 3l-8.5 5.5l-7.5 14.5l-4 5.5l-12 12l-4 5l-6 15.5l0 7.5l3.5 6l20.5 27l18 18l5.5 5l4 2l21.5 6l7 0.5l4-1.5l6.5-5l10-10l7.5-9l13.5-25l2-6l0-14l1.5-10l-1.5-6l-4-6l-0.5-2l5 0l22 2.5l10 0l10-1.5l16-4.5l34-14l18-9.5l6-5l5-8l6.5-20l0.5-10l-2.5-28l-4.5-20l-4-12l-5.5-12l-6.5-10l-10.5-14l-6.5-6l-10-6.5l-12-6.5l-10-4l-8-2l-14-1.5l-10-0.5zM1862.5 1189l1.5-1l8 0l5 5l0.5 4l-5.5 5.5l-2 0l-4-2l-5-5.5l0-4z" fill="#78b0d6" fill-rule="evenodd"/>
<path d="M1600 835l558 0l0 558l-558 0zM1864 989l-10 1.5l-14 3.5l-14 5.5l-12 6.5l-12 8l-10 9l-9 10l-10 14l-6.5 12l-5.5 14l-3.5 14l-2 16l0 14l2 16l3 12l5.5 15.5l0.5 2.5l-1 2l-5.5 4l-4 4l-5.5 12l-3.5 6l-16 16l-4 8l-4 12l0 8l4.5 8l21.5 28l19 19l6 5l4 2l24 6.5l8 0l6-2.5l10-8l11.5-12l10.5-18l9-12l2-6l0.5-10l2.5-3l26-0.5l12-2l14-3.5l12-4.5l12-6l10-7l10-7.5l13-14l11.5-16l8.5-18l5.5-20l2-16l0.5-12l-1.5-14l-2.5-12l-4-12l-7.5-16l-8-12l-9.5-12l-10-9.5l-12-9l-10-6l-14-6.5l-12-4l-14-2.5l-14-1.5zM1817 1115l15 1l6.5 3l5 6l6.5 16l-0.5 4l-13.5 38l-2 3.5l-2 1l-5.5-0.5l-8.5-2l-10-6l-4-4l0-2.5l5-17.5l-0.5-6l-3-6l-11.5-12l-1.5-4l0.5-4l1.5-2zM1862.5 1191l3.5-2l6 0.5l2 1l1.5 2.5l0 4l-1.5 2l-2 1l-2 0.5l-4-1.5l-2-2l-1-2z" fill="#92bfdc" fill-rule="evenodd"/>
<path d="M1600 835l558 0l0 558l-558 0zM1980 943l-4 2.5l-8 11.5l-6 3l-6 0l-19.5-5l-14.5-2.5l-24-1l-44 2l-14 1.5l-22 5l-13 5l-19 8.5l-12 1l-6 2.5l-12 6l-16 10.5l-6 3.5l-4 0.5l-10-2l-8 2.5l-6 4.5l-8 8.5l-15 22l-9.5 20l-6.5 16l-1.5 6l0 28l3 22l2.5 12l2.5 6l9.5 12l13 36l6 12l12 20.5l4.5 13.5l2 4l24 32l20 20l7.5 6.5l6 2.5l14 4l10 2.5l6 0.5l4-1l10-4l6-1l36 5l26 0l23-3l23.5-6l16.5-6l13.5-6l17-10l17-12l14-12l11.5-12.5l12-15l10-15.5l8-14.5l6-14.5l6-18l5-22l2-20l0-20l-1.5-18l-3.5-18.5l-6-20l-8-20l-10-18l-10-14.5l-14-17l-12-12l-20.5-16l-5.5-3.5zM1826.5 1119l3.5-1.5l6 1.5l2.5 2l0.5 2l-0.5 2l-2.5 1.5l-2 0.5l-4-1l-3-3zM1866.5 1191l3.5 0l2 0.5l2 3l-0.5 2.5l-3.5 1.5l-3.5-1.5l-2-4z" fill="#aacfe5" fill-rule="evenodd"/>
<path d="M1600 835l558 0l0 558l-558 0zM1870 877l-30 5l-21 7l-15.5 6l-17 8l-7.5 4l-8.5 6l-3 4l-1 4l2.5 14l6.5 24l-1.5 4l-2.5 2l-17.5 9l-22 13.5l-4 0l-8-1.5l-8 3.5l-4 0.5l-4-1l-8-5l-4-1.5l-4 0.5l-2.5 2l-6 8l-8.5 16l-8 18l-6 18l-4.5 18l-3 18l-2 18l0 14l1.5 22l3 20l5 20l7 20l8 18l12 21l12 16.5l12 14.5l12 12l19 16l15 10.5l20 11.5l18 8l18 6.5l14 3.5l22 4.5l4.5 1.5l4 4l1.5 12l2.5 8l1.5 2l3.5 2l8.5 1.5l18-2.5l22-1l24-4.5l26-7l24-10l30-16l12-8.5l26.5-22l22.5-24l17-24l8-14l14-28l8.5-24l6.5-26l3-26l1-22l-2-30l-1-6l-1.5-4l-4.5-2.5l-4-0.5l-12 2l-4-1l-2.5-2l-2-4l-5-18l-6.5-18l-8-18l-7.5-14l-8.5-13l-12-16l-12-13.5l-12-11.5l-16-13l-18.5-13l-11-10l-8-4l-14.5-6l-17.5-6l-28.5-7l-26-3z" fill="#cde0ee" fill-rule="evenodd"/>
<path d="M1623 1143l1-2l2 4l15 40l12 24l29.5 44l8 10l15.5 18l24 20.5l40 27l18 10l22 9.5l34 11l2.5 2l0.5 2l-1 2l-2 0.5l-7-0.5l-25-5l-21-7l-24.5-10l-19.5-10l-27-18l-8-6l-15-14l-15-15.5l-14-17.5l-10-15l-12-22l-10-22l-8-23.5l-4.5-22.5z" fill="#e8eef3" fill-rule="evenodd"/>
</g>
<g clip-path="url(#pe_clip)">
<circle cx="1877.0" cy="1110.3" r="224.7" fill="none" stroke="#3a3a3a" stroke-width="1.5" stroke-dasharray="5 3.5"/>
<circle cx="1877.0" cy="1110.3" r="129.8" fill="none" stroke="#3a3a3a" stroke-width="1.5" stroke-dasharray="5 3.5"/>
<path d="M1877.0 848.8V1371.8" fill="none" stroke="#3a3a3a" stroke-width="1.5" stroke-dasharray="5 3.5"/>
<path d="M1989.4 1175.2L2101.7 1240.0" fill="none" stroke="#3a3a3a" stroke-width="1.5" stroke-dasharray="5 3.5"/>
<path d="M1989.4 1045.4L2101.7 980.5" fill="none" stroke="#3a3a3a" stroke-width="1.5" stroke-dasharray="5 3.5"/>
<path d="M1764.6 1175.2L1652.3 1240.0" fill="none" stroke="#3a3a3a" stroke-width="1.5" stroke-dasharray="5 3.5"/>
<path d="M1764.6 1045.4L1652.3 980.5" fill="none" stroke="#3a3a3a" stroke-width="1.5" stroke-dasharray="5 3.5"/>
<path d="M1699 1104L1705 1116.5L1702.5 1125.5L1699 1127.5L1698.5 1119.5L1699 1110.5L1699 1104ZM1683.5 1119L1689 1122L1695.5 1124.5L1695.5 1120L1690.5 1117L1683.5 1119ZM1697.5 1127.5L1698.5 1137L1695.5 1142.5L1690 1137.5L1693.5 1134.5L1691.5 1131.5L1696.5 1131L1697.5 1127.5ZM1684.5 1133L1688 1143.5L1690 1146.5L1685.5 1140.5L1684.5 1133ZM1691 1144L1693 1153L1696 1155L1694 1147.5L1691 1144ZM1786.5 1051.5L1789 1059.5L1785 1061.5L1782 1055.5L1786.5 1051.5ZM1765 1053L1767.5 1061.5L1765 1069.5L1762 1064L1762.5 1057L1765 1053ZM1715.5 1086L1724 1091.5L1725.5 1087.5L1719 1085.5L1715.5 1086ZM1825.5 1126L1819 1134L1822.5 1141.5L1817 1149.5L1808 1159L1802.5 1166.5L1795.5 1170.5L1790.5 1178L1785 1187.5L1783.5 1196L1787.5 1204.5L1794.5 1200L1804.5 1195.5L1812.5 1195.5L1825.5 1192.5L1834 1195L1843 1192.5L1847 1184.5L1853.5 1175.5L1858 1165.5L1862.5 1155.5L1869 1148L1864.5 1144L1861.5 1135L1853 1134.5L1847.5 1128.5L1840 1127.5L1833 1128L1825.5 1126ZM1833 1208.5L1838 1207L1844.5 1210.5L1850 1211.5L1851 1217L1848 1219L1840 1220.5L1836 1217.5L1833.5 1215.5L1835.5 1212.5L1833 1208.5ZM1786 1159.5L1771 1162L1765.5 1160L1765.5 1154L1767 1146L1769.5 1141L1769.5 1133L1778 1139.5L1782.5 1140L1789 1132.5L1790 1127L1790.5 1118L1792.5 1112L1801 1111L1803.5 1116.5L1805.5 1123L1801 1127L1798.5 1135.5L1792.5 1144.5L1788 1149L1787.5 1158L1786 1159.5ZM1847 1126L1847.5 1121L1846 1116L1841 1110.5L1832 1112L1823 1114L1816.5 1112.5L1816.5 1121L1822.5 1123L1829 1123L1837.5 1126.5L1847 1126ZM1786.5 1086L1789.5 1078.5L1794.5 1070L1802.5 1070.5L1808 1078L1805 1087L1797.5 1089L1790 1092L1786.5 1086ZM1808 1065.5L1813 1065.5L1817.5 1070.5L1814 1076.5L1809 1077L1806 1071L1808 1065.5ZM1811 1122L1808.5 1116.5L1810 1108L1814.5 1103.5L1817.5 1110.5L1815 1119L1811 1122ZM1812.5 1092L1812.5 1084.5L1819 1081L1821.5 1085.5L1819.5 1091.5L1812.5 1092ZM1800.5 1109.5L1798 1103.5L1803.5 1102.5L1805.5 1106.5L1800.5 1109.5ZM1795.5 1100.5L1798.5 1095L1805 1094.5L1806.5 1099L1801 1101L1795.5 1100.5ZM1765 1130L1762 1124.5L1763.5 1116.5L1769.5 1118.5L1768.5 1127.5L1765 1130ZM1727 1199.5L1730.5 1209.5L1735 1217.5L1738 1216L1740 1211.5L1739 1204.5L1743 1200.5L1738 1199L1727 1199.5ZM1637.5 1131.5L1640.5 1143.5L1642 1156L1642 1171L1642.5 1176.5L1639 1163L1640 1156.5L1639 1143.5L1637.5 1131.5ZM1641.5 1176L1645 1185.5L1648.5 1198L1648.5 1201L1643.5 1190.5L1640 1176.5L1641.5 1176ZM1968.5 1282.5L1965.5 1276.5L1967 1269L1969 1263.5L1975 1261.5L1979 1264.5L1983 1259L1985.5 1257L1986 1250L1990.5 1250.5L1991 1256L1998.5 1255L2005 1254.5L2005.5 1258L1997.5 1264.5L1987.5 1268.5L1982 1272L1978.5 1277.5L1971.5 1281L1968.5 1282.5ZM2033.5 1244L2038 1240.5L2044.5 1232L2038 1229.5L2033.5 1228L2030 1227.5L2022 1228L2023.5 1220.5L2019 1217.5L2014.5 1221.5L2012 1227.5L2012.5 1234.5L2017 1238.5L2027 1238.5L2030.5 1243.5L2033.5 1244ZM2036 1208L2040.5 1201L2035.5 1196.5L2031 1199.5L2032 1205.5L2036 1208ZM2033.5 1071L2030.5 1066.5L2024 1062.5L2014.5 1061L2016 1062.5L2024.5 1065L2030.5 1069L2033.5 1071ZM1861 1276.5L1867 1276L1877 1274.5L1881 1272.5L1878.5 1272L1881.5 1267.5L1878 1266.5L1876.5 1261L1873 1257L1871.5 1255.5L1868.5 1255L1872 1249L1867.5 1248.5L1870 1245.5L1865 1245L1862 1249L1863 1254.5L1864.5 1259.5L1868.5 1259.5L1869 1264.5L1865 1265L1865.5 1268L1862.5 1270L1868 1271.5L1861 1276.5ZM1849 1269L1854.5 1269.5L1860 1268.5L1861 1264L1862.5 1260L1859 1257L1854.5 1259.5L1850.5 1260L1851 1264.5L1848.5 1267.5L1849 1269ZM2045.5 966.5L2039 967L2034.5 963.5L2028 959L2022.5 954.5L2016.5 950L2010 947L2005.5 951.5L2000.5 952.5L1998.5 957.5L2003 960.5L2007 956.5L2018.5 958.5L2023 959.5L2031.5 966L2039 969.5L2043 971L2045.5 966.5ZM2002 961.5L1997.5 961.5L1992 955.5L1984 954.5L1983.5 958L1989 967L1994.5 962.5L1999.5 964L2002 961.5ZM1988 968.5L1982.5 968L1979 975L1976 971.5L1973 982.5L1968 989.5L1972 988.5L1977.5 981.5L1984 973.5L1988 968.5ZM2083.5 990L2078.5 989.5L2076.5 986L2083.5 986.5L2083.5 990ZM2129 1154.5L2131.5 1147L2132 1150.5L2131 1155L2130 1156L2129 1154.5ZM2089 985.5L2085.5 979L2088.5 978L2086.5 969L2090.5 977L2093.5 983L2093 985.5L2089 985.5ZM2095.5 974L2090 967L2083.5 959L2085 957.5L2088.5 962L2090.5 966.5L2095.5 974ZM1941.5 1161.5L1945.5 1162L1949.5 1157L1942.5 1156.5L1936.5 1150.5L1931.5 1141.5L1931.5 1131.5L1934.5 1136L1936.5 1146L1939 1154L1941.5 1161.5ZM1886.5 1159L1890.5 1165L1894.5 1167.5L1896.5 1160.5L1893 1154.5L1895 1150L1890.5 1152L1888 1155L1886.5 1159ZM1926.5 1106L1928 1101.5L1925 1097.5L1919 1103L1926.5 1106ZM1922 1062L1917.5 1056.5L1911 1054L1913 1059L1922 1062ZM1908.5 1139.5L1913 1135.5L1913.5 1130L1909 1130L1908 1136.5L1908.5 1139.5ZM1879 1026.5L1875.5 1026L1872.5 1027L1875.5 1028.5L1879 1026.5ZM1777 886L1773.5 888.5L1776 889L1777 886ZM2109.5 1031.5L2106 1027L2105.5 1022.5L2109.5 1028L2109.5 1031.5ZM1906 1310L1910 1308.5L1910 1303.5L1905.5 1304L1906 1310ZM1906.5 1302.5L1909 1300.5L1907.5 1297.5L1906 1299.5L1906.5 1302.5ZM1921.5 1310L1931.5 1307L1931.5 1311L1921.5 1311L1921.5 1310ZM1961.5 1304.5L1970.5 1300.5L1965 1303.5L1961.5 1304.5ZM1990.5 1290L1996.5 1284L1995 1288L1990.5 1290ZM1635.5 1160.5L1637.5 1168.5L1636 1164L1635.5 1160.5ZM1650 1205.5L1652.5 1211.5L1650.5 1208.5L1650 1205.5ZM1748.5 1008.5L1740.5 1014.5L1733.5 1015.5L1738 1011L1748.5 1008.5ZM1817 984.5L1813.5 988.5L1812 985.5L1817 984.5ZM1860 996L1854.5 995.5L1857 997L1860 996ZM1726 1182.5L1727.5 1189.5L1726 1187.5L1726 1182.5ZM1625.5 1159L1622.5 1141.5L1623 1130.5L1624.5 1121.5L1625 1106L1628 1093L1628.5 1084L1631.5 1071.5L1635.5 1059L1642 1045L1646 1046L1653.5 1037.5L1661.5 1029.5L1666.5 1025.5L1672 1023.5L1676.5 1018L1672.5 1017L1660.5 1023L1652.5 1028.5L1659 1022L1666.5 1016.5L1672.5 1015L1679 1011.5L1683 1010.5L1688 1007.5L1693 1001.5L1700 1000L1704 1000L1710.5 999L1713.5 999L1720 1003.5L1728 1010L1735.5 1012L1733 1016.5L1729 1016L1734 1017.5L1740.5 1014.5L1747.5 1011L1752.5 1013L1761.5 1012.5L1767 1013L1774.5 1013L1782 1013.5L1786 1011L1793 1010L1799 1006.5L1806.5 1006L1811 1002.5L1814.5 1002L1814 994L1817.5 990.5L1818 984L1823.5 977.5L1829 970.5L1836.5 965L1832 972.5L1826.5 982.5L1824.5 986.5L1831 983.5L1836.5 985L1843 987L1847.5 992L1845.5 997L1840 1002.5L1844.5 1003.5L1851.5 1005L1854.5 1005.5L1852 1009L1847.5 1011L1849.5 1015L1854.5 1017L1850.5 1023.5L1847.5 1029L1844 1034L1837 1035L1830.5 1036L1823.5 1039.5L1818.5 1040.5L1812.5 1043.5L1810.5 1048.5L1807 1055.5L1802.5 1058L1800 1064L1793.5 1067.5L1789 1071L1785 1077L1785.5 1080.5L1785 1085.5L1781 1091.5L1780.5 1097L1781.5 1100.5L1784 1104L1793 1102L1795 1106L1786 1108L1782 1112L1778 1115.5L1784.5 1117.5L1787 1123L1781 1124.5L1774.5 1123L1771.5 1117.5L1765.5 1116L1763 1110.5L1755.5 1104L1747.5 1100L1743 1100L1736 1104L1734 1113L1730.5 1123L1729.5 1130L1722.5 1132L1717.5 1135.5L1717 1140L1722 1141L1729 1138L1735.5 1143L1742.5 1140L1750 1137.5L1759 1136.5L1761 1143.5L1759 1150L1757 1154L1751 1162.5L1757 1165L1761 1165.5L1755.5 1175L1750 1180.5L1749 1190L1746 1198.5L1741.5 1198.5L1733 1193.5L1727.5 1183L1721 1176.5L1710.5 1171L1717.5 1174.5L1722.5 1182L1719 1186L1718 1196.5L1710.5 1191.5L1705 1187L1708 1182L1700.5 1174.5L1695 1174L1695 1176.5L1691.5 1170.5L1687.5 1164.5L1682 1161L1676 1160.5L1672 1162.5L1667.5 1157L1663 1150L1658.5 1145L1653.5 1144.5L1649 1149.5L1645.5 1150L1645.5 1145L1648.5 1139.5L1652.5 1138.5L1653.5 1133L1653.5 1126L1653 1116L1650.5 1112.5L1651 1104.5L1651.5 1094.5L1649.5 1082.5L1645 1079.5L1639.5 1078L1634 1082.5L1631.5 1091L1631 1101.5L1632.5 1108L1634.5 1108L1635.5 1118.5L1635 1123L1632 1121L1627.5 1117L1627.5 1123.5L1628.5 1136.5L1628 1139.5L1625 1138L1623.5 1139L1623 1146L1625 1155.5L1626.5 1166L1628.5 1172L1631 1176L1635 1186.5L1635.5 1191L1634 1190L1635.5 1193.5L1638.5 1197L1640.5 1206L1645.5 1218L1650.5 1228L1653 1234.5L1656.5 1242.5L1660.5 1251L1668 1262L1673 1269.5L1675.5 1273.5L1678 1277L1678 1277M1626.5 1166L1625.5 1166L1624.5 1167L1623 1162L1621.5 1155.5M1857 1319.5L1854 1317L1850 1315.5L1844.5 1315L1844 1310L1847 1304L1846.5 1297.5L1851 1296L1864 1298.5L1871 1299L1873 1292L1869.5 1286L1863.5 1283.5L1863 1281.5L1872 1282L1871.5 1278L1877.5 1279L1881.5 1275.5L1887 1272L1890 1266L1896 1263.5L1900 1261L1898 1256L1897 1250L1902.5 1246.5L1903.5 1253L1902.5 1257L1906 1260L1914 1258.5L1924.5 1252.5L1930 1248.5L1927.5 1242L1934 1238.5L1930 1232L1938.5 1226L1942 1222.5L1933 1225L1926.5 1230L1922 1225.5L1920 1220L1923.5 1209.5L1920.5 1207.5L1917 1212.5L1915 1221L1913.5 1228.5L1918 1233.5L1917 1246L1913.5 1251L1909.5 1253.5L1903.5 1243.5L1901 1240L1896 1246L1890 1243.5L1888 1233.5L1893 1225L1898 1219L1901 1206.5L1903 1200.5L1907.5 1193.5L1912.5 1187L1916.5 1185L1922.5 1185.5L1926.5 1186.5L1935.5 1185L1943.5 1187L1945 1191L1936.5 1195L1933.5 1197L1939 1200.5L1947 1200L1947.5 1194.5L1949 1184.5L1944.5 1180L1947 1178L1954 1166L1957.5 1157L1954.5 1153.5L1962.5 1146.5L1968 1145L1969.5 1140.5L1958 1135L1948 1137.5L1949.5 1132.5L1954.5 1131L1954 1124L1949 1121.5L1944 1114L1939.5 1105L1930.5 1097L1935 1086L1947.5 1089L1944 1082L1942.5 1072.5L1939.5 1063.5L1941.5 1056L1935 1052L1927 1050.5L1918 1039L1908 1025.5L1892.5 1023L1877 1017.5L1868 1009.5L1858.5 1006.5L1863.5 999.5L1875 1002.5L1883 999.5L1879 990.5L1897.5 982L1908.5 984.5L1917 979L1923 968.5L1930.5 963.5L1941.5 960.5L1938.5 975L1933.5 983L1920 992L1912 995.5L1925.5 996.5L1932.5 991L1943 996L1956.5 1004.5L1966.5 1003.5L1981.5 1002L1975 993.5L1977.5 986L1987.5 976.5L2001 977.5L2016 981L2021.5 985L2028 985.5L2035 989L2037.5 979L2041.5 977L2049 983L2043.5 987L2044.5 993L2041 997.5L2044.5 1005.5L2049 1005L2055 1015.5L2057.5 1010L2051.5 1000L2062 1005.5L2066 993L2070 990.5L2078 994L2089 1002.5L2096.5 1012.5L2103.5 1025.5L2105.5 1034L2111 1041L2113.5 1043.5L2114 1031L2116 1026.5L2121 1035.5L2125 1044L2124 1044L2125.5 1053L2125 1063L2128 1068.5L2130.5 1063.5L2129 1049.5L2131 1058.5L2131 1072.5L2123.5 1078L2125.5 1090.5L2117.5 1102L2117.5 1110.5L2118 1123L2120 1131.5L2123.5 1152.5L2128 1154.5L2128 1166L2121 1176.5L2113.5 1182.5L2108.5 1182.5L2104.5 1193L2096 1201L2084.5 1220.5L2073 1237.5L2070 1238L2064.5 1246.5L2056.5 1253L2049 1255L2045.5 1259L2054 1259L2061 1256.5L2068.5 1249.5L2070.5 1239.5L2074 1240.5L2084 1231L2084.5 1241.5L2080.5 1252.5L2073.5 1264L2064 1279L2056 1289L2050.5 1294.5L2047 1294.5L2039 1296.5L2029.5 1298.5L2020 1298L2008.5 1298L2006 1296L2004 1301L1997.5 1300L2006.5 1302L2015.5 1303.5L2024 1303L2027 1305.5L2036 1303.5L2050 1296L2052 1295L2063 1284L2075 1269.5L2075 1272L2069 1283.5L2057 1297L2052.5 1301.5M1857 1319.5L1869.5 1318L1875 1315L1878.5 1307.5L1888 1303L1888.5 1299L1898.5 1299L1905.5 1293.5L1910.5 1295.5L1918.5 1299.5L1924.5 1301L1931 1301.5L1933.5 1307L1936 1303L1933.5 1301L1940 1298.5L1930.5 1296.5L1923.5 1296L1916.5 1292L1916 1288.5L1920 1286.5L1923 1288L1927 1291L1938 1292.5L1942 1293.5L1943 1297L1950 1300L1957 1303L1958 1299L1960 1297L1954.5 1295L1956 1292L1963 1287L1965 1288.5L1970 1292.5L1973 1295L1983 1290.5L1989.5 1287L1999.5 1278.5L2001.5 1282.5L2003.5 1287.5L2002 1293.5L1996.5 1297.5L1991 1300L1985 1305L1970.5 1310.5L1962.5 1311.5L1952.5 1317L1953.5 1320.5L1946 1322.5L1935 1322L1922.5 1323.5L1916.5 1322.5L1914 1317L1916.5 1313.5L1912 1313.5L1898.5 1316.5L1888 1317.5L1877 1321L1869.5 1322.5L1857.5 1320L1855 1319.5L1851.5 1324L1842 1326.5L1838.5 1332L1831.5 1335L1825.5 1334L1817 1337L1811.5 1338L1806 1342L1808 1346L1806 1349.5L1801.5 1349.5L1804 1353L1811 1356.5L1818 1359.5L1825.5 1362.5L1836.5 1365.5L1843 1367L1859 1368L1868 1368.5L1881.5 1368.5L1895 1367.5L1902 1368L1915 1366L1919.5 1366L1920 1366L1919 1366.5M2121.5 1023.5L2119 1017.5L2115.5 1009L2111.5 1001L2106.5 993.5L2103 985L2107 990.5L2106 988.5L2107 990.5M2130 1052L2132.5 1065.5L2133 1076.5L2134 1086.5L2133.5 1071L2133 1067.5M1840 962.5L1845 958.5M1850 956L1857.5 952.5M1863 951L1871.5 949.5M1885.5 950L1896 954.5M1980.5 957L1972 955M1967 955L1958 955M1951.5 957.5L1944 959.5" fill="none" stroke="#454545" stroke-width="2" stroke-linejoin="round" stroke-linecap="round"/>
<path d="M1647 1049h0M1647 1066.5h0M1656 1040.5h0M1656 1058h0M1656 1075.5h0M1664.5 1049h0M1664.5 1066.5h0M1673.5 1040.5h0M1673.5 1058h0M1673.5 1075.5h0M1673.5 1093h0M1682 1031.5h0M1682 1066.5h0M1682 1084h0M1734.5 1241.5h0M1743.5 1233h0M1752 1241.5h0M1813.5 1233h0M1813.5 1303h0M1822 1189h0M1822 1241.5h0M1822 1294h0M1831 1180.5h0M1831 1250.5h0M1839.5 1171.5h0M1866 1233h0M1874.5 1241.5h0M1883.5 1145.5h0M1883.5 1163h0M1883.5 1233h0M1883.5 1250.5h0M1892 1136.5h0M1892 1206.5h0M1892 1224h0M1892 1241.5h0M1901 1128h0M1901 1145.5h0M1901 1198h0M1901 1215.5h0M1901 1233h0M1901 1250.5h0M1909.5 1119h0M1909.5 1154h0M1909.5 1189h0M1909.5 1206.5h0M1909.5 1224h0M1909.5 1241.5h0M1918.5 1110.5h0M1918.5 1128h0M1918.5 1145.5h0M1918.5 1198h0M1918.5 1215.5h0M1918.5 1233h0M1918.5 1250.5h0M1927 1119h0M1927 1136.5h0M1927 1189h0M1927 1206.5h0M1927 1224h0M1927 1241.5h0M1936 1110.5h0M1936 1128h0M1936 1145.5h0M1936 1163h0M1936 1180.5h0M1936 1198h0M1936 1215.5h0M1944.5 1119h0M1944.5 1136.5h0M1944.5 1154h0M1944.5 1171.5h0M1944.5 1189h0M1953.5 1145.5h0M1953.5 1163h0M1953.5 1180.5h0M1962 1101.5h0M1962 1154h0M1962 1171.5h0M1962 1364h0M1971 1163h0" fill="none" stroke="#000" stroke-width="4.6" stroke-linecap="round"/>
<path d="M1726.7 1215.5L1730.5 1220.7L1734.4 1225.8L1738.5 1230.7L1742.8 1235.4L1747.2 1240.0L1751.9 1244.5L1756.6 1248.8L1761.5 1252.9L1766.6 1256.8L1771.8 1260.6L1777.1 1264.2L1782.5 1267.6L1788.0 1270.8L1793.7 1273.8L1799.5 1276.6L1805.3 1279.2L1811.2 1281.6L1817.3 1283.8L1823.4 1285.8L1829.5 1287.5L1829.5 1287.5L1848.6 1216.2L1848.6 1216.2L1844.9 1215.2L1841.3 1214.0L1837.7 1212.7L1834.1 1211.3L1830.7 1209.7L1827.2 1208.0L1823.8 1206.2L1820.5 1204.3L1817.3 1202.3L1814.1 1200.1L1811.0 1197.9L1808.0 1195.5L1805.1 1193.1L1802.2 1190.5L1799.5 1187.8L1796.8 1185.1L1794.2 1182.2L1791.8 1179.3L1789.4 1176.3L1787.2 1173.2L1726.7 1215.5Z" fill="none" stroke="#2b8a2b" stroke-width="4" stroke-linejoin="miter"/>
</g>
<text transform="translate(1877.0 840.0) scale(1 1.08)" font-size="21.5" text-anchor="middle" fill="#000" stroke="#000" stroke-width="0.35">180</text>
<text transform="translate(1877.0 1397.5) scale(1 1.08)" font-size="21.5" text-anchor="middle" fill="#000" stroke="#000" stroke-width="0.35">0</text>
<text x="1636.0" y="979.0" font-size="21.5" text-anchor="end" fill="#000" stroke="#000" stroke-width="0.35">120W</text>
<text x="1636.0" y="1257.5" font-size="21.5" text-anchor="end" fill="#000" stroke="#000" stroke-width="0.35">60W</text>
<text x="2118.0" y="979.0" font-size="21.5" text-anchor="start" fill="#000" stroke="#000" stroke-width="0.35">120E</text>
<text x="2118.0" y="1257.5" font-size="21.5" text-anchor="start" fill="#000" stroke="#000" stroke-width="0.35">60E</text>
<text x="1616.0" y="834.0" font-size="30" text-anchor="start" fill="#000" stroke="#000" stroke-width="0.45">e)</text>
<path d="M1633.9 1427.7L1609.4 1439.3L1633.9 1450.9Z" fill="#113a70" stroke="#000" stroke-width="1.7" stroke-linejoin="miter"/>
<path d="M2120.1 1427.7L2144.6 1439.3L2120.1 1450.9Z" fill="#690f24" stroke="#000" stroke-width="1.7" stroke-linejoin="miter"/>
<rect x="1633.90" y="1427.7" width="24.31" height="23.2" fill="#1f4f88" stroke="#000" stroke-width="1.7"/>
<rect x="1658.21" y="1427.7" width="24.31" height="23.2" fill="#2a66a2" stroke="#000" stroke-width="1.7"/>
<rect x="1682.52" y="1427.7" width="24.31" height="23.2" fill="#3477b0" stroke="#000" stroke-width="1.7"/>
<rect x="1706.83" y="1427.7" width="24.31" height="23.2" fill="#3f8dc4" stroke="#000" stroke-width="1.7"/>
<rect x="1731.14" y="1427.7" width="24.31" height="23.2" fill="#579fcd" stroke="#000" stroke-width="1.7"/>
<rect x="1755.45" y="1427.7" width="24.31" height="23.2" fill="#78b0d6" stroke="#000" stroke-width="1.7"/>
<rect x="1779.76" y="1427.7" width="24.31" height="23.2" fill="#92bfdc" stroke="#000" stroke-width="1.7"/>
<rect x="1804.07" y="1427.7" width="24.31" height="23.2" fill="#aacfe5" stroke="#000" stroke-width="1.7"/>
<rect x="1828.38" y="1427.7" width="24.31" height="23.2" fill="#cde0ee" stroke="#000" stroke-width="1.7"/>
<rect x="1852.69" y="1427.7" width="24.31" height="23.2" fill="#e8eef3" stroke="#000" stroke-width="1.7"/>
<rect x="1877.00" y="1427.7" width="24.31" height="23.2" fill="#f7ebe8" stroke="#000" stroke-width="1.7"/>
<rect x="1901.31" y="1427.7" width="24.31" height="23.2" fill="#f2d3cf" stroke="#000" stroke-width="1.7"/>
<rect x="1925.62" y="1427.7" width="24.31" height="23.2" fill="#edbab3" stroke="#000" stroke-width="1.7"/>
<rect x="1949.93" y="1427.7" width="24.31" height="23.2" fill="#e6a098" stroke="#000" stroke-width="1.7"/>
<rect x="1974.24" y="1427.7" width="24.31" height="23.2" fill="#e08679" stroke="#000" stroke-width="1.7"/>
<rect x="1998.55" y="1427.7" width="24.31" height="23.2" fill="#dc7060" stroke="#000" stroke-width="1.7"/>
<rect x="2022.86" y="1427.7" width="24.31" height="23.2" fill="#d85f4f" stroke="#000" stroke-width="1.7"/>
<rect x="2047.17" y="1427.7" width="24.31" height="23.2" fill="#b9403f" stroke="#000" stroke-width="1.7"/>
<rect x="2071.48" y="1427.7" width="24.31" height="23.2" fill="#a03038" stroke="#000" stroke-width="1.7"/>
<rect x="2095.79" y="1427.7" width="24.31" height="23.2" fill="#7c1729" stroke="#000" stroke-width="1.7"/>
<text transform="translate(1682.5 1480.0) scale(1 1.08)" font-size="30" text-anchor="middle" fill="#000" stroke="#000" stroke-width="0.45">-3.2</text>
<text transform="translate(1779.8 1480.0) scale(1 1.08)" font-size="30" text-anchor="middle" fill="#000" stroke="#000" stroke-width="0.45">-1.6</text>
<text transform="translate(1877.0 1480.0) scale(1 1.08)" font-size="30" text-anchor="middle" fill="#000" stroke="#000" stroke-width="0.45">0</text>
<text transform="translate(1974.2 1480.0) scale(1 1.08)" font-size="30" text-anchor="middle" fill="#000" stroke="#000" stroke-width="0.45">1.6</text>
<text transform="translate(2071.5 1480.0) scale(1 1.08)" font-size="30" text-anchor="middle" fill="#000" stroke="#000" stroke-width="0.45">3.2</text>
<text x="1876.0" y="1520.0" font-size="30" text-anchor="middle" stroke="#000" stroke-width="0.45">Δsurface temperature (<tspan font-size="22" dy="-12">o</tspan><tspan dy="12">C)</tspan></text>
</g>
</svg></body></html>
